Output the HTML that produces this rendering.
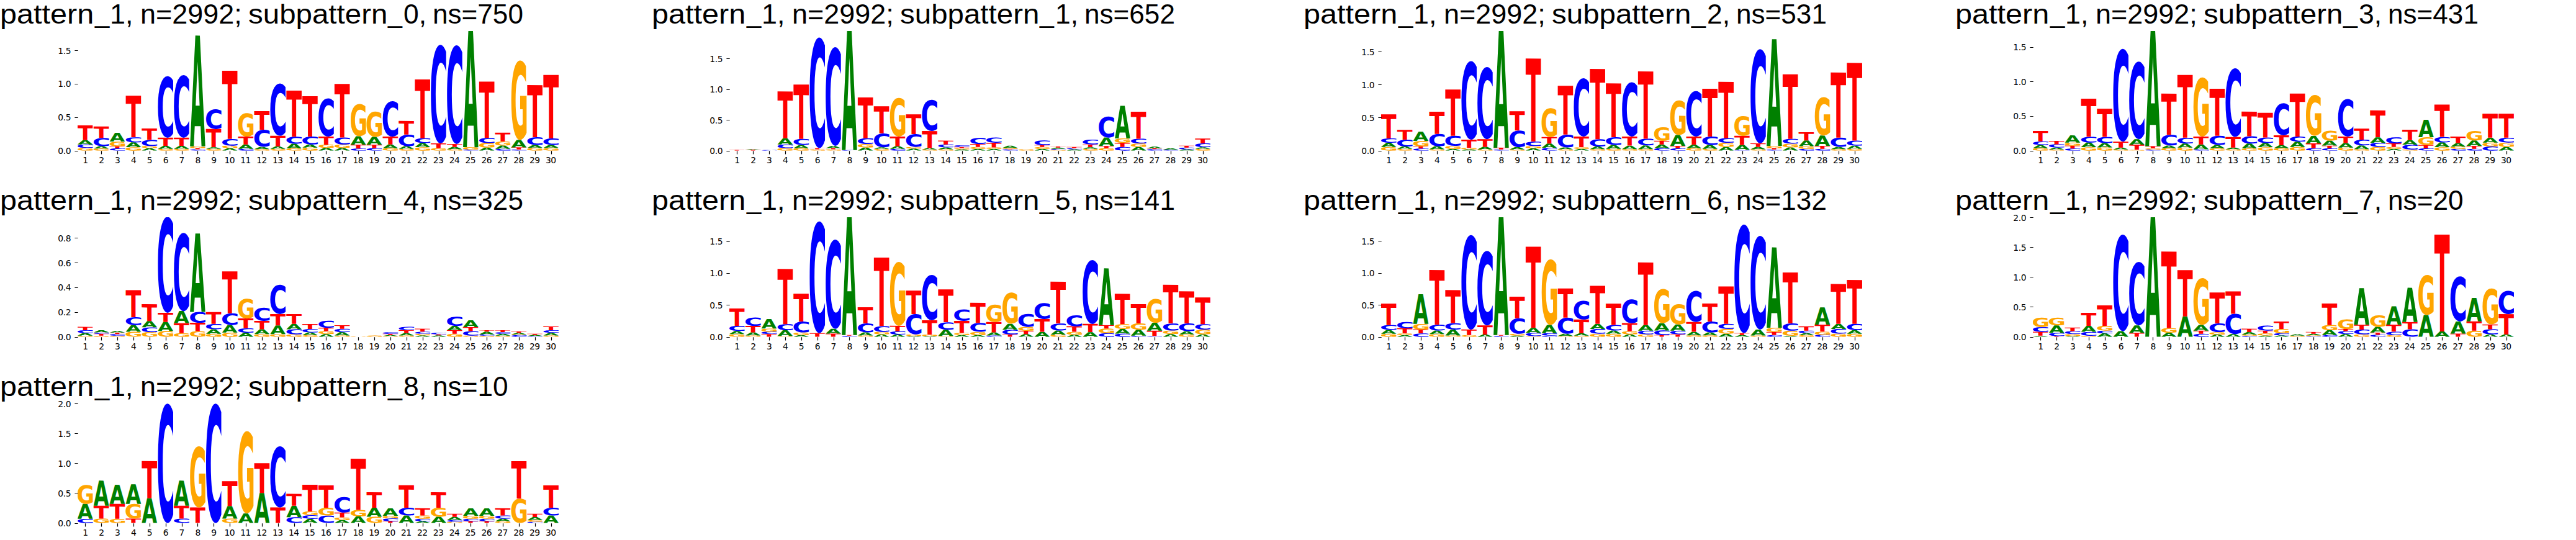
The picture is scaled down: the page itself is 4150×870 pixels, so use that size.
<!DOCTYPE html>
<html><head><meta charset="utf-8"><title>pattern_1 subpatterns</title>
<style>
html,body{margin:0;padding:0;background:#fff}
body{width:4150px;height:870px;position:relative;overflow:hidden}
.t{position:absolute;height:50px;white-space:nowrap;font-family:"Liberation Sans",sans-serif;font-size:45px;line-height:50px;color:#000}
.t span{position:absolute;top:-2.2px;white-space:pre;transform-origin:0 0}
svg{position:absolute;left:0;top:0}
.lg text{font-family:"DejaVu Sans",sans-serif;font-weight:bold;font-size:100px;text-rendering:geometricPrecision}
.tl text{font-family:"DejaVu Sans",sans-serif;font-size:13.89px;fill:#000;letter-spacing:-0.6px}
.tl.y text{letter-spacing:-0.3px}
</style></head><body>
<svg width="4150" height="870" viewBox="0 0 4150 870">
<defs><clipPath id="axclip"><rect x="125.0" y="50.0" width="775.0" height="193.4"/></clipPath></defs>
<g transform="translate(0 0)">
<g clip-path="url(#axclip)" class="lg">
<text transform="matrix(0.3526 .001 .001 0.0570 123.24 242.42)" fill="#ffa500">G</text>
<text transform="matrix(0.3964 .001 .001 0.0720 123.03 238.09)" fill="#0000ff">C</text>
<text transform="matrix(0.3217 .001 .001 0.0960 124.84 232.74)" fill="#008000">A</text>
<text transform="matrix(0.3659 .001 .001 0.3265 124.82 225.74)" fill="#ff0000">T</text>
<text transform="matrix(0.3526 .001 .001 0.0426 149.12 242.44)" fill="#ffa500">G</text>
<text transform="matrix(0.3217 .001 .001 0.0512 150.72 239.28)" fill="#008000">A</text>
<text transform="matrix(0.3964 .001 .001 0.1769 148.90 235.29)" fill="#0000ff">C</text>
<text transform="matrix(0.3659 .001 .001 0.2540 150.70 222.16)" fill="#ff0000">T</text>
<text transform="matrix(0.3964 .001 .001 0.0467 174.78 242.43)" fill="#0000ff">C</text>
<text transform="matrix(0.3659 .001 .001 0.0470 176.57 238.97)" fill="#ff0000">T</text>
<text transform="matrix(0.3526 .001 .001 0.0987 175.00 235.40)" fill="#ffa500">G</text>
<text transform="matrix(0.3217 .001 .001 0.1921 176.60 228.07)" fill="#008000">A</text>
<text transform="matrix(0.3526 .001 .001 0.0714 200.87 242.40)" fill="#ffa500">G</text>
<text transform="matrix(0.3217 .001 .001 0.1067 202.47 237.10)" fill="#008000">A</text>
<text transform="matrix(0.3964 .001 .001 0.1090 200.66 229.16)" fill="#0000ff">C</text>
<text transform="matrix(0.3659 .001 .001 0.9169 202.45 221.07)" fill="#ff0000">T</text>
<text transform="matrix(0.3217 .001 .001 0.0528 228.35 242.50)" fill="#008000">A</text>
<text transform="matrix(0.3526 .001 .001 0.0473 226.75 238.59)" fill="#ffa500">G</text>
<text transform="matrix(0.3964 .001 .001 0.1296 226.53 234.89)" fill="#0000ff">C</text>
<text transform="matrix(0.3659 .001 .001 0.2497 228.33 225.27)" fill="#ff0000">T</text>
<text transform="matrix(0.3526 .001 .001 0.0364 252.63 242.45)" fill="#ffa500">G</text>
<text transform="matrix(0.3217 .001 .001 0.0640 254.23 239.74)" fill="#008000">A</text>
<text transform="matrix(0.3659 .001 .001 0.1814 254.20 235.08)" fill="#ff0000">T</text>
<text transform="matrix(0.3964 .001 .001 1.3103 252.41 220.00)" fill="#0000ff">C</text>
<text transform="matrix(0.3526 .001 .001 0.0364 278.50 242.45)" fill="#ffa500">G</text>
<text transform="matrix(0.3217 .001 .001 0.0640 280.10 239.74)" fill="#008000">A</text>
<text transform="matrix(0.3659 .001 .001 0.1814 280.08 235.08)" fill="#ff0000">T</text>
<text transform="matrix(0.3964 .001 .001 1.3360 278.28 219.96)" fill="#0000ff">C</text>
<text transform="matrix(0.3964 .001 .001 0.0262 304.16 242.46)" fill="#0000ff">C</text>
<text transform="matrix(0.3659 .001 .001 0.0256 305.96 240.52)" fill="#ff0000">T</text>
<text transform="matrix(0.3526 .001 .001 0.0370 304.38 238.60)" fill="#ffa500">G</text>
<text transform="matrix(0.3217 .001 .001 2.4474 305.98 235.85)" fill="#008000">A</text>
<text transform="matrix(0.3526 .001 .001 0.0364 330.26 242.45)" fill="#ffa500">G</text>
<text transform="matrix(0.3217 .001 .001 0.0363 331.85 239.74)" fill="#008000">A</text>
<text transform="matrix(0.3659 .001 .001 0.4012 331.83 237.10)" fill="#ff0000">T</text>
<text transform="matrix(0.3964 .001 .001 0.4211 330.04 207.25)" fill="#0000ff">C</text>
<text transform="matrix(0.3217 .001 .001 0.0528 357.73 242.50)" fill="#008000">A</text>
<text transform="matrix(0.3526 .001 .001 0.0535 356.13 238.58)" fill="#ffa500">G</text>
<text transform="matrix(0.3964 .001 .001 0.1419 355.91 234.41)" fill="#0000ff">C</text>
<text transform="matrix(0.3659 .001 .001 1.5045 357.71 223.87)" fill="#ff0000">T</text>
<text transform="matrix(0.3964 .001 .001 0.0364 381.79 242.45)" fill="#0000ff">C</text>
<text transform="matrix(0.3217 .001 .001 0.0960 383.61 239.74)" fill="#008000">A</text>
<text transform="matrix(0.3659 .001 .001 0.1750 383.59 232.74)" fill="#ff0000">T</text>
<text transform="matrix(0.3526 .001 .001 0.4999 382.01 219.28)" fill="#ffa500">G</text>
<text transform="matrix(0.3526 .001 .001 0.0303 407.89 242.46)" fill="#ffa500">G</text>
<text transform="matrix(0.3217 .001 .001 0.0491 409.48 240.21)" fill="#008000">A</text>
<text transform="matrix(0.3964 .001 .001 0.3641 407.67 236.12)" fill="#0000ff">C</text>
<text transform="matrix(0.3659 .001 .001 0.4113 409.46 209.09)" fill="#ff0000">T</text>
<text transform="matrix(0.3526 .001 .001 0.0364 433.76 242.45)" fill="#ffa500">G</text>
<text transform="matrix(0.3217 .001 .001 0.0534 435.36 239.74)" fill="#008000">A</text>
<text transform="matrix(0.3659 .001 .001 0.2348 435.34 235.85)" fill="#ff0000">T</text>
<text transform="matrix(0.3964 .001 .001 1.1150 433.54 217.16)" fill="#0000ff">C</text>
<text transform="matrix(0.3526 .001 .001 0.0467 459.64 242.43)" fill="#ffa500">G</text>
<text transform="matrix(0.3217 .001 .001 0.1024 461.24 238.97)" fill="#008000">A</text>
<text transform="matrix(0.3964 .001 .001 0.1481 459.42 231.29)" fill="#0000ff">C</text>
<text transform="matrix(0.3659 .001 .001 1.0182 461.22 220.30)" fill="#ff0000">T</text>
<text transform="matrix(0.3526 .001 .001 0.0632 485.51 242.41)" fill="#ffa500">G</text>
<text transform="matrix(0.3217 .001 .001 0.0683 487.11 237.72)" fill="#008000">A</text>
<text transform="matrix(0.3964 .001 .001 0.1687 485.30 232.50)" fill="#0000ff">C</text>
<text transform="matrix(0.3659 .001 .001 0.8913 487.09 219.98)" fill="#ff0000">T</text>
<text transform="matrix(0.3217 .001 .001 0.0592 512.99 242.50)" fill="#008000">A</text>
<text transform="matrix(0.3526 .001 .001 0.0679 511.39 238.09)" fill="#ffa500">G</text>
<text transform="matrix(0.3659 .001 .001 0.1793 512.97 233.05)" fill="#ff0000">T</text>
<text transform="matrix(0.3964 .001 .001 0.8128 511.17 218.83)" fill="#0000ff">C</text>
<text transform="matrix(0.3217 .001 .001 0.0592 538.87 242.50)" fill="#008000">A</text>
<text transform="matrix(0.3526 .001 .001 0.0720 537.27 238.09)" fill="#ffa500">G</text>
<text transform="matrix(0.3964 .001 .001 0.1481 537.05 232.53)" fill="#0000ff">C</text>
<text transform="matrix(0.3659 .001 .001 1.1846 538.84 221.54)" fill="#ff0000">T</text>
<text transform="matrix(0.3964 .001 .001 0.0426 562.93 242.44)" fill="#0000ff">C</text>
<text transform="matrix(0.3659 .001 .001 0.0854 564.72 239.28)" fill="#ff0000">T</text>
<text transform="matrix(0.3217 .001 .001 0.1857 564.74 233.05)" fill="#008000">A</text>
<text transform="matrix(0.3526 .001 .001 0.6884 563.14 218.54)" fill="#ffa500">G</text>
<text transform="matrix(0.3964 .001 .001 0.0508 588.80 242.43)" fill="#0000ff">C</text>
<text transform="matrix(0.3659 .001 .001 0.0768 590.60 238.65)" fill="#ff0000">T</text>
<text transform="matrix(0.3217 .001 .001 0.1707 590.62 233.05)" fill="#008000">A</text>
<text transform="matrix(0.3526 .001 .001 0.5384 589.02 219.84)" fill="#ffa500">G</text>
<text transform="matrix(0.3526 .001 .001 0.0508 614.90 242.43)" fill="#ffa500">G</text>
<text transform="matrix(0.3217 .001 .001 0.0811 616.50 238.65)" fill="#008000">A</text>
<text transform="matrix(0.3659 .001 .001 0.1750 616.47 232.74)" fill="#ff0000">T</text>
<text transform="matrix(0.3964 .001 .001 0.7563 614.68 218.91)" fill="#0000ff">C</text>
<text transform="matrix(0.3526 .001 .001 0.0364 640.77 242.45)" fill="#ffa500">G</text>
<text transform="matrix(0.3217 .001 .001 0.0576 642.37 239.74)" fill="#008000">A</text>
<text transform="matrix(0.3964 .001 .001 0.2468 640.55 235.19)" fill="#0000ff">C</text>
<text transform="matrix(0.3659 .001 .001 0.3009 642.35 216.87)" fill="#ff0000">T</text>
<text transform="matrix(0.3526 .001 .001 0.0714 666.65 242.40)" fill="#ffa500">G</text>
<text transform="matrix(0.3217 .001 .001 0.0918 668.25 237.10)" fill="#008000">A</text>
<text transform="matrix(0.3964 .001 .001 0.1029 666.43 230.26)" fill="#0000ff">C</text>
<text transform="matrix(0.3659 .001 .001 1.3008 668.23 222.63)" fill="#ff0000">T</text>
<text transform="matrix(0.3526 .001 .001 0.0508 692.53 242.43)" fill="#ffa500">G</text>
<text transform="matrix(0.3659 .001 .001 0.1067 694.10 238.65)" fill="#ff0000">T</text>
<text transform="matrix(0.3964 .001 .001 2.0978 692.31 227.90)" fill="#0000ff">C</text>
<text transform="matrix(0.3526 .001 .001 0.0262 718.40 242.46)" fill="#ffa500">G</text>
<text transform="matrix(0.3217 .001 .001 0.0534 720.00 240.52)" fill="#008000">A</text>
<text transform="matrix(0.3659 .001 .001 0.0640 719.98 236.63)" fill="#ff0000">T</text>
<text transform="matrix(0.3964 .001 .001 2.1019 718.18 228.99)" fill="#0000ff">C</text>
<text transform="matrix(0.3964 .001 .001 0.0220 744.06 242.47)" fill="#0000ff">C</text>
<text transform="matrix(0.3526 .001 .001 0.0494 744.28 240.76)" fill="#ffa500">G</text>
<text transform="matrix(0.3217 .001 .001 2.6107 745.88 237.10)" fill="#008000">A</text>
<text transform="matrix(0.3217 .001 .001 0.0656 771.75 242.50)" fill="#008000">A</text>
<text transform="matrix(0.3526 .001 .001 0.0967 770.16 237.58)" fill="#ffa500">G</text>
<text transform="matrix(0.3964 .001 .001 0.1090 769.94 230.25)" fill="#0000ff">C</text>
<text transform="matrix(0.3659 .001 .001 1.2464 771.73 222.16)" fill="#ff0000">T</text>
<text transform="matrix(0.3964 .001 .001 0.0364 795.81 242.45)" fill="#0000ff">C</text>
<text transform="matrix(0.3217 .001 .001 0.0747 797.63 239.74)" fill="#008000">A</text>
<text transform="matrix(0.3526 .001 .001 0.0864 796.03 234.18)" fill="#ffa500">G</text>
<text transform="matrix(0.3659 .001 .001 0.1921 797.61 227.76)" fill="#ff0000">T</text>
<text transform="matrix(0.3964 .001 .001 0.0220 821.69 242.47)" fill="#0000ff">C</text>
<text transform="matrix(0.3659 .001 .001 0.0470 823.49 240.83)" fill="#ff0000">T</text>
<text transform="matrix(0.3217 .001 .001 0.1643 823.51 237.41)" fill="#008000">A</text>
<text transform="matrix(0.3526 .001 .001 1.6917 821.91 223.03)" fill="#ffa500">G</text>
<text transform="matrix(0.3526 .001 .001 0.0570 847.78 242.42)" fill="#ffa500">G</text>
<text transform="matrix(0.3217 .001 .001 0.0640 849.38 238.19)" fill="#008000">A</text>
<text transform="matrix(0.3964 .001 .001 0.1646 847.57 233.29)" fill="#0000ff">C</text>
<text transform="matrix(0.3659 .001 .001 1.1515 849.36 221.07)" fill="#ff0000">T</text>
<text transform="matrix(0.3526 .001 .001 0.0570 873.66 242.42)" fill="#ffa500">G</text>
<text transform="matrix(0.3217 .001 .001 0.0640 875.26 238.19)" fill="#008000">A</text>
<text transform="matrix(0.3964 .001 .001 0.1378 873.44 233.32)" fill="#0000ff">C</text>
<text transform="matrix(0.3659 .001 .001 1.4032 875.24 223.10)" fill="#ff0000">T</text>
</g>
<path d="M137.50 243.30v5.1M163.50 243.30v5.1M189.50 243.30v5.1M215.50 243.30v5.1M241.50 243.30v5.1M267.50 243.30v5.1M293.50 243.30v5.1M318.50 243.30v5.1M344.50 243.30v5.1M370.50 243.30v5.1M396.50 243.30v5.1M422.50 243.30v5.1M448.50 243.30v5.1M474.50 243.30v5.1M500.50 243.30v5.1M525.50 243.30v5.1M551.50 243.30v5.1M577.50 243.30v5.1M603.50 243.30v5.1M629.50 243.30v5.1M655.50 243.30v5.1M681.50 243.30v5.1M707.50 243.30v5.1M732.50 243.30v5.1M758.50 243.30v5.1M784.50 243.30v5.1M810.50 243.30v5.1M836.50 243.30v5.1M862.50 243.30v5.1M888.50 243.30v5.1M125.70 243.50h-5.3M125.70 189.50h-5.3M125.70 135.50h-5.3M125.70 81.50h-5.3" stroke="#000" stroke-width="1.2" fill="none"/>
<g class="tl" text-anchor="middle">
<text x="137.39" y="262.80">1</text>
<text x="163.27" y="262.80">2</text>
<text x="189.14" y="262.80">3</text>
<text x="215.02" y="262.80">4</text>
<text x="240.90" y="262.80">5</text>
<text x="266.77" y="262.80">6</text>
<text x="292.65" y="262.80">7</text>
<text x="318.53" y="262.80">8</text>
<text x="344.40" y="262.80">9</text>
<text x="369.68" y="262.80">10</text>
<text x="395.56" y="262.80">11</text>
<text x="421.43" y="262.80">12</text>
<text x="447.31" y="262.80">13</text>
<text x="473.19" y="262.80">14</text>
<text x="499.06" y="262.80">15</text>
<text x="524.94" y="262.80">16</text>
<text x="550.81" y="262.80">17</text>
<text x="576.69" y="262.80">18</text>
<text x="602.57" y="262.80">19</text>
<text x="628.44" y="262.80">20</text>
<text x="654.32" y="262.80">21</text>
<text x="680.20" y="262.80">22</text>
<text x="706.07" y="262.80">23</text>
<text x="731.95" y="262.80">24</text>
<text x="757.83" y="262.80">25</text>
<text x="783.70" y="262.80">26</text>
<text x="809.58" y="262.80">27</text>
<text x="835.46" y="262.80">28</text>
<text x="861.33" y="262.80">29</text>
<text x="887.21" y="262.80">30</text>
</g>
<g class="tl y" text-anchor="end">
<text x="114.40" y="248.00">0.0</text>
<text x="114.40" y="194.00">0.5</text>
<text x="114.40" y="140.00">1.0</text>
<text x="114.40" y="87.00">1.5</text>
</g>
</g>
<g transform="translate(1050 0)">
<g clip-path="url(#axclip)" class="lg">
<text transform="matrix(0.3659 .001 .001 0.0143 124.82 242.50)" fill="#ff0000">T</text>
<text transform="matrix(0.3659 .001 .001 0.0165 150.70 242.50)" fill="#ff0000">T</text>
<text transform="matrix(0.3217 .001 .001 0.0128 150.72 241.30)" fill="#008000">A</text>
<text transform="matrix(0.3964 .001 .001 0.0118 174.78 242.48)" fill="#0000ff">C</text>
<text transform="matrix(0.3526 .001 .001 0.0508 200.87 242.43)" fill="#ffa500">G</text>
<text transform="matrix(0.3964 .001 .001 0.0782 200.66 238.54)" fill="#0000ff">C</text>
<text transform="matrix(0.3217 .001 .001 0.1387 202.47 232.74)" fill="#008000">A</text>
<text transform="matrix(0.3659 .001 .001 1.0342 202.45 222.63)" fill="#ff0000">T</text>
<text transform="matrix(0.3526 .001 .001 0.0508 226.75 242.43)" fill="#ffa500">G</text>
<text transform="matrix(0.3217 .001 .001 0.0704 228.35 238.65)" fill="#008000">A</text>
<text transform="matrix(0.3964 .001 .001 0.1275 226.53 233.34)" fill="#0000ff">C</text>
<text transform="matrix(0.3659 .001 .001 1.2006 228.33 223.87)" fill="#ff0000">T</text>
<text transform="matrix(0.3526 .001 .001 0.0262 252.63 242.46)" fill="#ffa500">G</text>
<text transform="matrix(0.3659 .001 .001 0.0256 254.20 240.52)" fill="#ff0000">T</text>
<text transform="matrix(0.3964 .001 .001 2.3548 252.41 235.32)" fill="#0000ff">C</text>
<text transform="matrix(0.3526 .001 .001 0.0262 278.50 242.46)" fill="#ffa500">G</text>
<text transform="matrix(0.3659 .001 .001 0.0256 280.08 240.52)" fill="#ff0000">T</text>
<text transform="matrix(0.3217 .001 .001 0.0491 280.10 238.65)" fill="#008000">A</text>
<text transform="matrix(0.3964 .001 .001 2.1019 278.28 232.10)" fill="#0000ff">C</text>
<text transform="matrix(0.3964 .001 .001 0.0097 304.16 242.49)" fill="#0000ff">C</text>
<text transform="matrix(0.3217 .001 .001 2.6590 305.98 241.77)" fill="#008000">A</text>
<text transform="matrix(0.3217 .001 .001 0.0656 331.85 242.50)" fill="#008000">A</text>
<text transform="matrix(0.3526 .001 .001 0.0761 330.26 237.61)" fill="#ffa500">G</text>
<text transform="matrix(0.3964 .001 .001 0.1234 330.04 231.79)" fill="#0000ff">C</text>
<text transform="matrix(0.3659 .001 .001 0.9009 331.83 222.63)" fill="#ff0000">T</text>
<text transform="matrix(0.3526 .001 .001 0.0364 356.13 242.45)" fill="#ffa500">G</text>
<text transform="matrix(0.3217 .001 .001 0.0363 357.73 239.74)" fill="#008000">A</text>
<text transform="matrix(0.3964 .001 .001 0.2942 355.91 236.68)" fill="#0000ff">C</text>
<text transform="matrix(0.3659 .001 .001 0.5969 357.71 214.85)" fill="#ff0000">T</text>
<text transform="matrix(0.3964 .001 .001 0.0364 381.79 242.45)" fill="#0000ff">C</text>
<text transform="matrix(0.3217 .001 .001 0.0576 383.61 239.74)" fill="#008000">A</text>
<text transform="matrix(0.3659 .001 .001 0.2134 383.59 235.54)" fill="#ff0000">T</text>
<text transform="matrix(0.3526 .001 .001 0.8231 382.01 218.82)" fill="#ffa500">G</text>
<text transform="matrix(0.3217 .001 .001 0.0442 409.48 242.50)" fill="#008000">A</text>
<text transform="matrix(0.3526 .001 .001 0.0350 407.89 239.23)" fill="#ffa500">G</text>
<text transform="matrix(0.3964 .001 .001 0.2736 407.67 236.24)" fill="#0000ff">C</text>
<text transform="matrix(0.3659 .001 .001 0.4375 409.46 215.94)" fill="#ff0000">T</text>
<text transform="matrix(0.3526 .001 .001 0.0220 433.76 242.47)" fill="#ffa500">G</text>
<text transform="matrix(0.3217 .001 .001 0.0299 435.36 240.83)" fill="#008000">A</text>
<text transform="matrix(0.3659 .001 .001 0.3799 435.34 238.65)" fill="#ff0000">T</text>
<text transform="matrix(0.3964 .001 .001 0.6627 433.54 210.02)" fill="#0000ff">C</text>
<text transform="matrix(0.3526 .001 .001 0.0262 459.64 242.46)" fill="#ffa500">G</text>
<text transform="matrix(0.3217 .001 .001 0.0427 461.24 240.52)" fill="#008000">A</text>
<text transform="matrix(0.3964 .001 .001 0.0617 459.42 237.32)" fill="#0000ff">C</text>
<text transform="matrix(0.3659 .001 .001 0.0854 461.22 232.74)" fill="#ff0000">T</text>
<text transform="matrix(0.3217 .001 .001 0.0271 487.11 242.50)" fill="#008000">A</text>
<text transform="matrix(0.3526 .001 .001 0.0247 485.51 240.49)" fill="#ffa500">G</text>
<text transform="matrix(0.3659 .001 .001 0.0277 487.09 238.65)" fill="#ff0000">T</text>
<text transform="matrix(0.3964 .001 .001 0.0350 485.30 236.58)" fill="#0000ff">C</text>
<text transform="matrix(0.3217 .001 .001 0.0378 512.99 242.50)" fill="#008000">A</text>
<text transform="matrix(0.3526 .001 .001 0.0411 511.39 239.69)" fill="#ffa500">G</text>
<text transform="matrix(0.3659 .001 .001 0.0640 512.97 236.63)" fill="#ff0000">T</text>
<text transform="matrix(0.3964 .001 .001 0.1296 511.17 231.78)" fill="#0000ff">C</text>
<text transform="matrix(0.3217 .001 .001 0.0378 538.87 242.50)" fill="#008000">A</text>
<text transform="matrix(0.3526 .001 .001 0.0309 537.27 239.70)" fill="#ffa500">G</text>
<text transform="matrix(0.3659 .001 .001 0.1024 538.84 237.41)" fill="#ff0000">T</text>
<text transform="matrix(0.3964 .001 .001 0.1111 537.05 229.78)" fill="#0000ff">C</text>
<text transform="matrix(0.3964 .001 .001 0.0262 562.93 242.46)" fill="#0000ff">C</text>
<text transform="matrix(0.3659 .001 .001 0.0107 564.72 240.52)" fill="#ff0000">T</text>
<text transform="matrix(0.3526 .001 .001 0.0206 563.14 239.71)" fill="#ffa500">G</text>
<text transform="matrix(0.3217 .001 .001 0.0491 564.74 238.19)" fill="#008000">A</text>
<text transform="matrix(0.3526 .001 .001 0.0282 589.02 242.46)" fill="#ffa500">G</text>
<text transform="matrix(0.3217 .001 .001 0.0378 616.50 242.50)" fill="#008000">A</text>
<text transform="matrix(0.3526 .001 .001 0.0411 614.90 239.69)" fill="#ffa500">G</text>
<text transform="matrix(0.3659 .001 .001 0.0427 616.47 236.63)" fill="#ff0000">T</text>
<text transform="matrix(0.3964 .001 .001 0.0987 614.68 233.38)" fill="#0000ff">C</text>
<text transform="matrix(0.3526 .001 .001 0.0159 640.77 242.48)" fill="#ffa500">G</text>
<text transform="matrix(0.3964 .001 .001 0.0206 640.55 241.27)" fill="#0000ff">C</text>
<text transform="matrix(0.3217 .001 .001 0.0277 642.37 239.74)" fill="#008000">A</text>
<text transform="matrix(0.3659 .001 .001 0.0256 642.35 237.72)" fill="#ff0000">T</text>
<text transform="matrix(0.3217 .001 .001 0.0271 668.25 242.50)" fill="#008000">A</text>
<text transform="matrix(0.3964 .001 .001 0.0247 666.43 240.49)" fill="#0000ff">C</text>
<text transform="matrix(0.3659 .001 .001 0.0277 668.23 238.65)" fill="#ff0000">T</text>
<text transform="matrix(0.3526 .001 .001 0.0364 692.53 242.45)" fill="#ffa500">G</text>
<text transform="matrix(0.3217 .001 .001 0.0363 694.13 239.74)" fill="#008000">A</text>
<text transform="matrix(0.3659 .001 .001 0.0598 694.10 237.10)" fill="#ff0000">T</text>
<text transform="matrix(0.3964 .001 .001 0.1029 692.31 232.60)" fill="#0000ff">C</text>
<text transform="matrix(0.3526 .001 .001 0.0508 718.40 242.43)" fill="#ffa500">G</text>
<text transform="matrix(0.3659 .001 .001 0.0491 719.98 238.65)" fill="#ff0000">T</text>
<text transform="matrix(0.3217 .001 .001 0.1857 720.00 235.08)" fill="#008000">A</text>
<text transform="matrix(0.3964 .001 .001 0.4484 718.18 220.91)" fill="#0000ff">C</text>
<text transform="matrix(0.3964 .001 .001 0.0776 744.06 242.39)" fill="#0000ff">C</text>
<text transform="matrix(0.3659 .001 .001 0.0918 745.86 236.63)" fill="#ff0000">T</text>
<text transform="matrix(0.3526 .001 .001 0.0905 744.28 229.81)" fill="#ffa500">G</text>
<text transform="matrix(0.3217 .001 .001 0.7207 745.88 223.10)" fill="#008000">A</text>
<text transform="matrix(0.3217 .001 .001 0.0805 771.75 242.50)" fill="#008000">A</text>
<text transform="matrix(0.3526 .001 .001 0.0720 770.16 236.53)" fill="#ffa500">G</text>
<text transform="matrix(0.3964 .001 .001 0.1029 769.94 231.04)" fill="#0000ff">C</text>
<text transform="matrix(0.3659 .001 .001 0.5970 771.73 223.41)" fill="#ff0000">T</text>
<text transform="matrix(0.3964 .001 .001 0.0303 795.81 242.46)" fill="#0000ff">C</text>
<text transform="matrix(0.3659 .001 .001 0.0171 797.61 240.21)" fill="#ff0000">T</text>
<text transform="matrix(0.3217 .001 .001 0.0384 797.63 238.97)" fill="#008000">A</text>
<text transform="matrix(0.3964 .001 .001 0.0200 821.69 242.47)" fill="#0000ff">C</text>
<text transform="matrix(0.3217 .001 .001 0.0277 823.51 240.99)" fill="#008000">A</text>
<text transform="matrix(0.3217 .001 .001 0.0271 849.38 242.50)" fill="#008000">A</text>
<text transform="matrix(0.3964 .001 .001 0.0370 847.57 240.47)" fill="#0000ff">C</text>
<text transform="matrix(0.3659 .001 .001 0.0427 849.36 237.72)" fill="#ff0000">T</text>
<text transform="matrix(0.3526 .001 .001 0.0364 873.66 242.45)" fill="#ffa500">G</text>
<text transform="matrix(0.3217 .001 .001 0.0363 875.26 239.74)" fill="#008000">A</text>
<text transform="matrix(0.3964 .001 .001 0.0823 873.44 236.98)" fill="#0000ff">C</text>
<text transform="matrix(0.3659 .001 .001 0.1067 875.24 230.88)" fill="#ff0000">T</text>
</g>
<path d="M137.50 243.30v5.1M163.50 243.30v5.1M189.50 243.30v5.1M215.50 243.30v5.1M241.50 243.30v5.1M267.50 243.30v5.1M293.50 243.30v5.1M318.50 243.30v5.1M344.50 243.30v5.1M370.50 243.30v5.1M396.50 243.30v5.1M422.50 243.30v5.1M448.50 243.30v5.1M474.50 243.30v5.1M500.50 243.30v5.1M525.50 243.30v5.1M551.50 243.30v5.1M577.50 243.30v5.1M603.50 243.30v5.1M629.50 243.30v5.1M655.50 243.30v5.1M681.50 243.30v5.1M707.50 243.30v5.1M732.50 243.30v5.1M758.50 243.30v5.1M784.50 243.30v5.1M810.50 243.30v5.1M836.50 243.30v5.1M862.50 243.30v5.1M888.50 243.30v5.1M125.70 243.50h-5.3M125.70 193.50h-5.3M125.70 144.50h-5.3M125.70 94.50h-5.3" stroke="#000" stroke-width="1.2" fill="none"/>
<g class="tl" text-anchor="middle">
<text x="137.39" y="262.80">1</text>
<text x="163.27" y="262.80">2</text>
<text x="189.14" y="262.80">3</text>
<text x="215.02" y="262.80">4</text>
<text x="240.90" y="262.80">5</text>
<text x="266.77" y="262.80">6</text>
<text x="292.65" y="262.80">7</text>
<text x="318.53" y="262.80">8</text>
<text x="344.40" y="262.80">9</text>
<text x="369.68" y="262.80">10</text>
<text x="395.56" y="262.80">11</text>
<text x="421.43" y="262.80">12</text>
<text x="447.31" y="262.80">13</text>
<text x="473.19" y="262.80">14</text>
<text x="499.06" y="262.80">15</text>
<text x="524.94" y="262.80">16</text>
<text x="550.81" y="262.80">17</text>
<text x="576.69" y="262.80">18</text>
<text x="602.57" y="262.80">19</text>
<text x="628.44" y="262.80">20</text>
<text x="654.32" y="262.80">21</text>
<text x="680.20" y="262.80">22</text>
<text x="706.07" y="262.80">23</text>
<text x="731.95" y="262.80">24</text>
<text x="757.83" y="262.80">25</text>
<text x="783.70" y="262.80">26</text>
<text x="809.58" y="262.80">27</text>
<text x="835.46" y="262.80">28</text>
<text x="861.33" y="262.80">29</text>
<text x="887.21" y="262.80">30</text>
</g>
<g class="tl y" text-anchor="end">
<text x="114.40" y="248.00">0.0</text>
<text x="114.40" y="199.00">0.5</text>
<text x="114.40" y="149.00">1.0</text>
<text x="114.40" y="100.00">1.5</text>
</g>
</g>
<g transform="translate(2100 0)">
<g clip-path="url(#axclip)" class="lg">
<text transform="matrix(0.3526 .001 .001 0.0776 123.24 242.39)" fill="#ffa500">G</text>
<text transform="matrix(0.3217 .001 .001 0.0918 124.84 236.63)" fill="#008000">A</text>
<text transform="matrix(0.3964 .001 .001 0.0926 123.03 229.81)" fill="#0000ff">C</text>
<text transform="matrix(0.3659 .001 .001 0.5335 124.82 222.94)" fill="#ff0000">T</text>
<text transform="matrix(0.3526 .001 .001 0.0364 149.12 242.45)" fill="#ffa500">G</text>
<text transform="matrix(0.3217 .001 .001 0.0534 150.72 239.74)" fill="#008000">A</text>
<text transform="matrix(0.3964 .001 .001 0.1440 148.90 235.65)" fill="#0000ff">C</text>
<text transform="matrix(0.3659 .001 .001 0.2177 150.70 224.96)" fill="#ff0000">T</text>
<text transform="matrix(0.3964 .001 .001 0.0426 174.78 242.44)" fill="#0000ff">C</text>
<text transform="matrix(0.3659 .001 .001 0.0512 176.57 239.28)" fill="#ff0000">T</text>
<text transform="matrix(0.3526 .001 .001 0.1131 175.00 235.38)" fill="#ffa500">G</text>
<text transform="matrix(0.3217 .001 .001 0.2027 176.60 226.99)" fill="#008000">A</text>
<text transform="matrix(0.3526 .001 .001 0.0262 200.87 242.46)" fill="#ffa500">G</text>
<text transform="matrix(0.3217 .001 .001 0.0683 202.47 240.52)" fill="#008000">A</text>
<text transform="matrix(0.3964 .001 .001 0.2633 200.66 235.17)" fill="#0000ff">C</text>
<text transform="matrix(0.3659 .001 .001 0.4903 202.45 215.63)" fill="#ff0000">T</text>
<text transform="matrix(0.3217 .001 .001 0.0378 228.35 242.50)" fill="#008000">A</text>
<text transform="matrix(0.3526 .001 .001 0.0617 226.75 239.66)" fill="#ffa500">G</text>
<text transform="matrix(0.3964 .001 .001 0.2160 226.53 234.77)" fill="#0000ff">C</text>
<text transform="matrix(0.3659 .001 .001 1.0235 228.33 218.74)" fill="#ff0000">T</text>
<text transform="matrix(0.3217 .001 .001 0.0271 254.23 242.50)" fill="#008000">A</text>
<text transform="matrix(0.3526 .001 .001 0.0309 252.63 240.48)" fill="#ffa500">G</text>
<text transform="matrix(0.3659 .001 .001 0.1814 254.20 238.19)" fill="#ff0000">T</text>
<text transform="matrix(0.3964 .001 .001 1.6701 252.41 222.60)" fill="#0000ff">C</text>
<text transform="matrix(0.3526 .001 .001 0.0220 278.50 242.47)" fill="#ffa500">G</text>
<text transform="matrix(0.3217 .001 .001 0.0576 280.10 240.83)" fill="#008000">A</text>
<text transform="matrix(0.3659 .001 .001 0.1707 280.08 236.63)" fill="#ff0000">T</text>
<text transform="matrix(0.3964 .001 .001 1.5365 278.28 222.01)" fill="#0000ff">C</text>
<text transform="matrix(0.3964 .001 .001 0.0220 304.16 242.47)" fill="#0000ff">C</text>
<text transform="matrix(0.3659 .001 .001 0.0405 305.96 240.83)" fill="#ff0000">T</text>
<text transform="matrix(0.3217 .001 .001 2.6165 305.98 237.88)" fill="#008000">A</text>
<text transform="matrix(0.3526 .001 .001 0.0220 330.26 242.47)" fill="#ffa500">G</text>
<text transform="matrix(0.3217 .001 .001 0.0512 331.85 240.83)" fill="#008000">A</text>
<text transform="matrix(0.3964 .001 .001 0.3559 330.04 236.59)" fill="#0000ff">C</text>
<text transform="matrix(0.3659 .001 .001 0.4262 331.83 210.18)" fill="#ff0000">T</text>
<text transform="matrix(0.3217 .001 .001 0.0485 357.73 242.50)" fill="#008000">A</text>
<text transform="matrix(0.3526 .001 .001 0.0514 356.13 238.89)" fill="#ffa500">G</text>
<text transform="matrix(0.3964 .001 .001 0.0926 355.91 234.94)" fill="#0000ff">C</text>
<text transform="matrix(0.3659 .001 .001 1.8341 357.71 228.07)" fill="#ff0000">T</text>
<text transform="matrix(0.3964 .001 .001 0.0570 381.79 242.42)" fill="#0000ff">C</text>
<text transform="matrix(0.3217 .001 .001 0.0960 383.61 238.19)" fill="#008000">A</text>
<text transform="matrix(0.3659 .001 .001 0.1451 383.59 231.19)" fill="#ff0000">T</text>
<text transform="matrix(0.3526 .001 .001 0.6155 382.01 219.74)" fill="#ffa500">G</text>
<text transform="matrix(0.3526 .001 .001 0.0262 407.89 242.46)" fill="#ffa500">G</text>
<text transform="matrix(0.3217 .001 .001 0.0427 409.48 240.52)" fill="#008000">A</text>
<text transform="matrix(0.3964 .001 .001 0.2715 407.67 237.03)" fill="#0000ff">C</text>
<text transform="matrix(0.3659 .001 .001 1.0779 409.46 216.87)" fill="#ff0000">T</text>
<text transform="matrix(0.3217 .001 .001 0.0378 435.36 242.50)" fill="#008000">A</text>
<text transform="matrix(0.3526 .001 .001 0.0350 433.76 239.69)" fill="#ffa500">G</text>
<text transform="matrix(0.3659 .001 .001 0.2348 435.34 237.10)" fill="#ff0000">T</text>
<text transform="matrix(0.3964 .001 .001 1.2445 433.54 218.22)" fill="#0000ff">C</text>
<text transform="matrix(0.3526 .001 .001 0.0303 459.64 242.46)" fill="#ffa500">G</text>
<text transform="matrix(0.3217 .001 .001 0.0598 461.24 240.21)" fill="#008000">A</text>
<text transform="matrix(0.3964 .001 .001 0.1543 459.42 235.64)" fill="#0000ff">C</text>
<text transform="matrix(0.3659 .001 .001 1.5515 461.22 224.19)" fill="#ff0000">T</text>
<text transform="matrix(0.3526 .001 .001 0.0364 485.51 242.45)" fill="#ffa500">G</text>
<text transform="matrix(0.3217 .001 .001 0.0854 487.11 239.74)" fill="#008000">A</text>
<text transform="matrix(0.3964 .001 .001 0.1646 485.30 233.29)" fill="#0000ff">C</text>
<text transform="matrix(0.3659 .001 .001 1.1888 487.09 221.07)" fill="#ff0000">T</text>
<text transform="matrix(0.3526 .001 .001 0.0303 511.39 242.46)" fill="#ffa500">G</text>
<text transform="matrix(0.3217 .001 .001 0.0768 512.99 240.21)" fill="#008000">A</text>
<text transform="matrix(0.3659 .001 .001 0.2006 512.97 234.61)" fill="#ff0000">T</text>
<text transform="matrix(0.3964 .001 .001 1.1572 511.17 218.35)" fill="#0000ff">C</text>
<text transform="matrix(0.3526 .001 .001 0.0303 537.27 242.46)" fill="#ffa500">G</text>
<text transform="matrix(0.3217 .001 .001 0.0811 538.87 240.21)" fill="#008000">A</text>
<text transform="matrix(0.3964 .001 .001 0.1440 537.05 234.09)" fill="#0000ff">C</text>
<text transform="matrix(0.3659 .001 .001 1.4875 538.84 223.41)" fill="#ff0000">T</text>
<text transform="matrix(0.3964 .001 .001 0.0508 562.93 242.43)" fill="#0000ff">C</text>
<text transform="matrix(0.3217 .001 .001 0.0811 564.74 238.65)" fill="#008000">A</text>
<text transform="matrix(0.3659 .001 .001 0.0811 564.72 232.74)" fill="#ff0000">T</text>
<text transform="matrix(0.3526 .001 .001 0.2921 563.14 226.42)" fill="#ffa500">G</text>
<text transform="matrix(0.3964 .001 .001 0.0467 588.80 242.43)" fill="#0000ff">C</text>
<text transform="matrix(0.3659 .001 .001 0.0534 590.60 238.97)" fill="#ff0000">T</text>
<text transform="matrix(0.3217 .001 .001 0.2412 590.62 235.08)" fill="#008000">A</text>
<text transform="matrix(0.3526 .001 .001 0.7388 589.02 216.45)" fill="#ffa500">G</text>
<text transform="matrix(0.3526 .001 .001 0.0508 614.90 242.43)" fill="#ffa500">G</text>
<text transform="matrix(0.3217 .001 .001 0.0768 616.50 238.65)" fill="#008000">A</text>
<text transform="matrix(0.3659 .001 .001 0.1793 616.47 233.05)" fill="#ff0000">T</text>
<text transform="matrix(0.3964 .001 .001 0.9670 614.68 218.62)" fill="#0000ff">C</text>
<text transform="matrix(0.3526 .001 .001 0.0364 640.77 242.45)" fill="#ffa500">G</text>
<text transform="matrix(0.3217 .001 .001 0.0854 642.37 239.74)" fill="#008000">A</text>
<text transform="matrix(0.3964 .001 .001 0.1790 640.55 233.27)" fill="#0000ff">C</text>
<text transform="matrix(0.3659 .001 .001 1.0566 642.35 219.98)" fill="#ff0000">T</text>
<text transform="matrix(0.3217 .001 .001 0.0805 668.25 242.50)" fill="#008000">A</text>
<text transform="matrix(0.3526 .001 .001 0.0885 666.65 236.51)" fill="#ffa500">G</text>
<text transform="matrix(0.3964 .001 .001 0.0967 666.43 229.80)" fill="#0000ff">C</text>
<text transform="matrix(0.3659 .001 .001 1.2475 668.23 222.63)" fill="#ff0000">T</text>
<text transform="matrix(0.3964 .001 .001 0.0159 692.31 242.48)" fill="#0000ff">C</text>
<text transform="matrix(0.3217 .001 .001 0.1067 694.13 241.30)" fill="#008000">A</text>
<text transform="matrix(0.3659 .001 .001 0.2027 694.10 233.52)" fill="#ff0000">T</text>
<text transform="matrix(0.3526 .001 .001 0.4217 692.53 218.14)" fill="#ffa500">G</text>
<text transform="matrix(0.3526 .001 .001 0.0262 718.40 242.46)" fill="#ffa500">G</text>
<text transform="matrix(0.3217 .001 .001 0.0534 720.00 240.52)" fill="#008000">A</text>
<text transform="matrix(0.3659 .001 .001 0.0790 719.98 236.63)" fill="#ff0000">T</text>
<text transform="matrix(0.3964 .001 .001 2.0053 718.18 228.04)" fill="#0000ff">C</text>
<text transform="matrix(0.3964 .001 .001 0.0220 744.06 242.47)" fill="#0000ff">C</text>
<text transform="matrix(0.3659 .001 .001 0.0299 745.86 240.83)" fill="#ff0000">T</text>
<text transform="matrix(0.3526 .001 .001 0.0473 744.28 238.59)" fill="#ffa500">G</text>
<text transform="matrix(0.3217 .001 .001 2.3567 745.88 235.08)" fill="#008000">A</text>
<text transform="matrix(0.3217 .001 .001 0.0698 771.75 242.50)" fill="#008000">A</text>
<text transform="matrix(0.3526 .001 .001 0.0782 770.16 237.30)" fill="#ffa500">G</text>
<text transform="matrix(0.3964 .001 .001 0.1029 769.94 231.35)" fill="#0000ff">C</text>
<text transform="matrix(0.3659 .001 .001 1.4277 771.73 223.72)" fill="#ff0000">T</text>
<text transform="matrix(0.3964 .001 .001 0.0364 795.81 242.45)" fill="#0000ff">C</text>
<text transform="matrix(0.3526 .001 .001 0.0555 796.03 239.66)" fill="#ffa500">G</text>
<text transform="matrix(0.3217 .001 .001 0.1280 797.63 235.54)" fill="#008000">A</text>
<text transform="matrix(0.3659 .001 .001 0.1814 797.61 226.21)" fill="#ff0000">T</text>
<text transform="matrix(0.3964 .001 .001 0.0364 821.69 242.45)" fill="#0000ff">C</text>
<text transform="matrix(0.3659 .001 .001 0.0640 823.49 239.74)" fill="#ff0000">T</text>
<text transform="matrix(0.3217 .001 .001 0.2284 823.51 235.08)" fill="#008000">A</text>
<text transform="matrix(0.3526 .001 .001 0.8179 821.91 217.27)" fill="#ffa500">G</text>
<text transform="matrix(0.3526 .001 .001 0.0303 847.78 242.46)" fill="#ffa500">G</text>
<text transform="matrix(0.3217 .001 .001 0.0491 849.38 240.21)" fill="#008000">A</text>
<text transform="matrix(0.3964 .001 .001 0.1954 847.57 236.35)" fill="#0000ff">C</text>
<text transform="matrix(0.3659 .001 .001 1.4395 849.36 221.85)" fill="#ff0000">T</text>
<text transform="matrix(0.3526 .001 .001 0.0364 873.66 242.45)" fill="#ffa500">G</text>
<text transform="matrix(0.3217 .001 .001 0.0704 875.26 239.74)" fill="#008000">A</text>
<text transform="matrix(0.3964 .001 .001 0.1070 873.44 234.46)" fill="#0000ff">C</text>
<text transform="matrix(0.3659 .001 .001 1.7168 875.24 226.52)" fill="#ff0000">T</text>
</g>
<path d="M137.50 243.30v5.1M163.50 243.30v5.1M189.50 243.30v5.1M215.50 243.30v5.1M241.50 243.30v5.1M267.50 243.30v5.1M293.50 243.30v5.1M318.50 243.30v5.1M344.50 243.30v5.1M370.50 243.30v5.1M396.50 243.30v5.1M422.50 243.30v5.1M448.50 243.30v5.1M474.50 243.30v5.1M500.50 243.30v5.1M525.50 243.30v5.1M551.50 243.30v5.1M577.50 243.30v5.1M603.50 243.30v5.1M629.50 243.30v5.1M655.50 243.30v5.1M681.50 243.30v5.1M707.50 243.30v5.1M732.50 243.30v5.1M758.50 243.30v5.1M784.50 243.30v5.1M810.50 243.30v5.1M836.50 243.30v5.1M862.50 243.30v5.1M888.50 243.30v5.1M125.70 243.50h-5.3M125.70 189.50h-5.3M125.70 136.50h-5.3M125.70 83.50h-5.3" stroke="#000" stroke-width="1.2" fill="none"/>
<g class="tl" text-anchor="middle">
<text x="137.39" y="262.80">1</text>
<text x="163.27" y="262.80">2</text>
<text x="189.14" y="262.80">3</text>
<text x="215.02" y="262.80">4</text>
<text x="240.90" y="262.80">5</text>
<text x="266.77" y="262.80">6</text>
<text x="292.65" y="262.80">7</text>
<text x="318.53" y="262.80">8</text>
<text x="344.40" y="262.80">9</text>
<text x="369.68" y="262.80">10</text>
<text x="395.56" y="262.80">11</text>
<text x="421.43" y="262.80">12</text>
<text x="447.31" y="262.80">13</text>
<text x="473.19" y="262.80">14</text>
<text x="499.06" y="262.80">15</text>
<text x="524.94" y="262.80">16</text>
<text x="550.81" y="262.80">17</text>
<text x="576.69" y="262.80">18</text>
<text x="602.57" y="262.80">19</text>
<text x="628.44" y="262.80">20</text>
<text x="654.32" y="262.80">21</text>
<text x="680.20" y="262.80">22</text>
<text x="706.07" y="262.80">23</text>
<text x="731.95" y="262.80">24</text>
<text x="757.83" y="262.80">25</text>
<text x="783.70" y="262.80">26</text>
<text x="809.58" y="262.80">27</text>
<text x="835.46" y="262.80">28</text>
<text x="861.33" y="262.80">29</text>
<text x="887.21" y="262.80">30</text>
</g>
<g class="tl y" text-anchor="end">
<text x="114.40" y="248.00">0.0</text>
<text x="114.40" y="195.00">0.5</text>
<text x="114.40" y="142.00">1.0</text>
<text x="114.40" y="89.00">1.5</text>
</g>
</g>
<g transform="translate(3150 0)">
<g clip-path="url(#axclip)" class="lg">
<text transform="matrix(0.3526 .001 .001 0.0508 123.24 242.43)" fill="#ffa500">G</text>
<text transform="matrix(0.3217 .001 .001 0.0704 124.84 238.65)" fill="#008000">A</text>
<text transform="matrix(0.3964 .001 .001 0.0761 123.03 233.41)" fill="#0000ff">C</text>
<text transform="matrix(0.3659 .001 .001 0.2305 124.82 227.76)" fill="#ff0000">T</text>
<text transform="matrix(0.3526 .001 .001 0.0220 149.12 242.47)" fill="#ffa500">G</text>
<text transform="matrix(0.3217 .001 .001 0.0427 150.72 240.83)" fill="#008000">A</text>
<text transform="matrix(0.3964 .001 .001 0.0699 148.90 237.62)" fill="#0000ff">C</text>
<text transform="matrix(0.3659 .001 .001 0.0768 150.70 232.43)" fill="#ff0000">T</text>
<text transform="matrix(0.3964 .001 .001 0.0426 174.78 242.44)" fill="#0000ff">C</text>
<text transform="matrix(0.3659 .001 .001 0.0640 176.57 239.28)" fill="#ff0000">T</text>
<text transform="matrix(0.3526 .001 .001 0.0658 175.00 234.52)" fill="#ffa500">G</text>
<text transform="matrix(0.3217 .001 .001 0.1601 176.60 229.63)" fill="#008000">A</text>
<text transform="matrix(0.3526 .001 .001 0.0714 200.87 242.40)" fill="#ffa500">G</text>
<text transform="matrix(0.3217 .001 .001 0.1024 202.47 237.10)" fill="#008000">A</text>
<text transform="matrix(0.3964 .001 .001 0.1234 200.66 229.46)" fill="#0000ff">C</text>
<text transform="matrix(0.3659 .001 .001 0.8422 202.45 220.30)" fill="#ff0000">T</text>
<text transform="matrix(0.3526 .001 .001 0.0673 226.75 242.40)" fill="#ffa500">G</text>
<text transform="matrix(0.3217 .001 .001 0.0960 228.35 237.41)" fill="#008000">A</text>
<text transform="matrix(0.3964 .001 .001 0.1296 226.53 230.22)" fill="#0000ff">C</text>
<text transform="matrix(0.3659 .001 .001 0.6225 228.33 220.61)" fill="#ff0000">T</text>
<text transform="matrix(0.3526 .001 .001 0.0220 252.63 242.47)" fill="#ffa500">G</text>
<text transform="matrix(0.3217 .001 .001 0.0427 254.23 240.83)" fill="#008000">A</text>
<text transform="matrix(0.3659 .001 .001 0.1323 254.20 237.72)" fill="#ff0000">T</text>
<text transform="matrix(0.3964 .001 .001 1.9734 252.41 225.28)" fill="#0000ff">C</text>
<text transform="matrix(0.3526 .001 .001 0.0159 278.50 242.48)" fill="#ffa500">G</text>
<text transform="matrix(0.3659 .001 .001 0.1131 280.08 241.30)" fill="#ff0000">T</text>
<text transform="matrix(0.3217 .001 .001 0.1216 280.10 233.05)" fill="#008000">A</text>
<text transform="matrix(0.3964 .001 .001 1.6496 278.28 221.85)" fill="#0000ff">C</text>
<text transform="matrix(0.3964 .001 .001 0.0220 304.16 242.47)" fill="#0000ff">C</text>
<text transform="matrix(0.3526 .001 .001 0.0247 304.38 240.80)" fill="#ffa500">G</text>
<text transform="matrix(0.3659 .001 .001 0.0491 305.96 238.97)" fill="#ff0000">T</text>
<text transform="matrix(0.3217 .001 .001 2.5712 305.98 235.39)" fill="#008000">A</text>
<text transform="matrix(0.3526 .001 .001 0.0508 330.26 242.43)" fill="#ffa500">G</text>
<text transform="matrix(0.3217 .001 .001 0.0598 331.85 238.65)" fill="#008000">A</text>
<text transform="matrix(0.3964 .001 .001 0.2263 330.04 233.98)" fill="#0000ff">C</text>
<text transform="matrix(0.3659 .001 .001 0.9115 331.83 217.18)" fill="#ff0000">T</text>
<text transform="matrix(0.3526 .001 .001 0.0632 356.13 242.41)" fill="#ffa500">G</text>
<text transform="matrix(0.3217 .001 .001 0.0896 357.73 237.72)" fill="#008000">A</text>
<text transform="matrix(0.3964 .001 .001 0.1234 355.91 231.01)" fill="#0000ff">C</text>
<text transform="matrix(0.3659 .001 .001 1.3861 357.71 221.85)" fill="#ff0000">T</text>
<text transform="matrix(0.3964 .001 .001 0.0262 381.79 242.46)" fill="#0000ff">C</text>
<text transform="matrix(0.3217 .001 .001 0.1067 383.61 240.52)" fill="#008000">A</text>
<text transform="matrix(0.3659 .001 .001 0.1750 383.59 232.74)" fill="#ff0000">T</text>
<text transform="matrix(0.3526 .001 .001 1.2599 382.01 218.20)" fill="#ffa500">G</text>
<text transform="matrix(0.3526 .001 .001 0.0467 407.89 242.43)" fill="#ffa500">G</text>
<text transform="matrix(0.3217 .001 .001 0.0747 409.48 238.97)" fill="#008000">A</text>
<text transform="matrix(0.3964 .001 .001 0.1954 407.67 233.24)" fill="#0000ff">C</text>
<text transform="matrix(0.3659 .001 .001 1.0395 409.46 218.74)" fill="#ff0000">T</text>
<text transform="matrix(0.3526 .001 .001 0.0262 433.76 242.46)" fill="#ffa500">G</text>
<text transform="matrix(0.3217 .001 .001 0.0384 435.36 240.52)" fill="#008000">A</text>
<text transform="matrix(0.3659 .001 .001 0.2348 435.34 237.72)" fill="#ff0000">T</text>
<text transform="matrix(0.3964 .001 .001 1.4635 433.54 218.53)" fill="#0000ff">C</text>
<text transform="matrix(0.3526 .001 .001 0.0467 459.64 242.43)" fill="#ffa500">G</text>
<text transform="matrix(0.3217 .001 .001 0.1067 461.24 238.97)" fill="#008000">A</text>
<text transform="matrix(0.3964 .001 .001 0.1543 459.42 230.97)" fill="#0000ff">C</text>
<text transform="matrix(0.3659 .001 .001 0.5436 461.22 219.52)" fill="#ff0000">T</text>
<text transform="matrix(0.3526 .001 .001 0.0714 485.51 242.40)" fill="#ffa500">G</text>
<text transform="matrix(0.3217 .001 .001 0.0918 487.11 237.10)" fill="#008000">A</text>
<text transform="matrix(0.3964 .001 .001 0.1172 485.30 230.24)" fill="#0000ff">C</text>
<text transform="matrix(0.3659 .001 .001 0.5447 487.09 221.54)" fill="#ff0000">T</text>
<text transform="matrix(0.3526 .001 .001 0.0508 511.39 242.43)" fill="#ffa500">G</text>
<text transform="matrix(0.3217 .001 .001 0.0640 512.99 238.65)" fill="#008000">A</text>
<text transform="matrix(0.3659 .001 .001 0.2198 512.97 233.99)" fill="#ff0000">T</text>
<text transform="matrix(0.3964 .001 .001 0.6833 511.17 216.99)" fill="#0000ff">C</text>
<text transform="matrix(0.3526 .001 .001 0.0776 537.27 242.39)" fill="#ffa500">G</text>
<text transform="matrix(0.3217 .001 .001 0.1174 538.87 236.63)" fill="#008000">A</text>
<text transform="matrix(0.3964 .001 .001 0.1070 537.05 227.92)" fill="#0000ff">C</text>
<text transform="matrix(0.3659 .001 .001 0.9499 538.84 219.98)" fill="#ff0000">T</text>
<text transform="matrix(0.3964 .001 .001 0.0508 562.93 242.43)" fill="#0000ff">C</text>
<text transform="matrix(0.3659 .001 .001 0.1067 564.72 238.65)" fill="#ff0000">T</text>
<text transform="matrix(0.3217 .001 .001 0.1665 564.74 230.88)" fill="#008000">A</text>
<text transform="matrix(0.3526 .001 .001 0.8683 563.14 217.51)" fill="#ffa500">G</text>
<text transform="matrix(0.3964 .001 .001 0.0467 588.80 242.43)" fill="#0000ff">C</text>
<text transform="matrix(0.3659 .001 .001 0.0598 590.60 238.97)" fill="#ff0000">T</text>
<text transform="matrix(0.3217 .001 .001 0.1110 590.62 234.61)" fill="#008000">A</text>
<text transform="matrix(0.3526 .001 .001 0.2119 589.02 226.22)" fill="#ffa500">G</text>
<text transform="matrix(0.3526 .001 .001 0.0632 614.90 242.41)" fill="#ffa500">G</text>
<text transform="matrix(0.3217 .001 .001 0.1003 616.50 237.72)" fill="#008000">A</text>
<text transform="matrix(0.3659 .001 .001 0.1430 616.47 230.41)" fill="#ff0000">T</text>
<text transform="matrix(0.3964 .001 .001 0.7974 614.68 218.86)" fill="#0000ff">C</text>
<text transform="matrix(0.3526 .001 .001 0.0303 640.77 242.46)" fill="#ffa500">G</text>
<text transform="matrix(0.3217 .001 .001 0.0811 642.37 240.21)" fill="#008000">A</text>
<text transform="matrix(0.3964 .001 .001 0.1234 640.55 234.12)" fill="#0000ff">C</text>
<text transform="matrix(0.3659 .001 .001 0.2454 642.35 224.96)" fill="#ff0000">T</text>
<text transform="matrix(0.3526 .001 .001 0.0776 666.65 242.39)" fill="#ffa500">G</text>
<text transform="matrix(0.3964 .001 .001 0.0885 666.43 236.51)" fill="#0000ff">C</text>
<text transform="matrix(0.3217 .001 .001 0.1216 668.25 229.94)" fill="#008000">A</text>
<text transform="matrix(0.3659 .001 .001 0.5916 668.23 221.07)" fill="#ff0000">T</text>
<text transform="matrix(0.3217 .001 .001 0.0378 694.13 242.50)" fill="#008000">A</text>
<text transform="matrix(0.3526 .001 .001 0.0411 692.53 239.69)" fill="#ffa500">G</text>
<text transform="matrix(0.3659 .001 .001 0.0790 694.10 236.63)" fill="#ff0000">T</text>
<text transform="matrix(0.3964 .001 .001 0.1296 692.31 230.69)" fill="#0000ff">C</text>
<text transform="matrix(0.3526 .001 .001 0.0220 718.40 242.47)" fill="#ffa500">G</text>
<text transform="matrix(0.3964 .001 .001 0.1029 718.18 240.69)" fill="#0000ff">C</text>
<text transform="matrix(0.3217 .001 .001 0.1003 720.00 233.05)" fill="#008000">A</text>
<text transform="matrix(0.3659 .001 .001 0.2305 719.98 225.74)" fill="#ff0000">T</text>
<text transform="matrix(0.3964 .001 .001 0.0467 744.06 242.43)" fill="#0000ff">C</text>
<text transform="matrix(0.3659 .001 .001 0.0747 745.86 238.97)" fill="#ff0000">T</text>
<text transform="matrix(0.3526 .001 .001 0.1646 744.28 233.29)" fill="#ffa500">G</text>
<text transform="matrix(0.3217 .001 .001 0.3841 745.88 221.07)" fill="#008000">A</text>
<text transform="matrix(0.3526 .001 .001 0.0714 770.16 242.40)" fill="#ffa500">G</text>
<text transform="matrix(0.3217 .001 .001 0.1067 771.75 237.10)" fill="#008000">A</text>
<text transform="matrix(0.3964 .001 .001 0.1152 769.94 229.16)" fill="#0000ff">C</text>
<text transform="matrix(0.3659 .001 .001 0.7132 771.73 220.61)" fill="#ff0000">T</text>
<text transform="matrix(0.3964 .001 .001 0.0364 795.81 242.45)" fill="#0000ff">C</text>
<text transform="matrix(0.3526 .001 .001 0.0473 796.03 239.68)" fill="#ffa500">G</text>
<text transform="matrix(0.3217 .001 .001 0.0790 797.63 236.16)" fill="#008000">A</text>
<text transform="matrix(0.3659 .001 .001 0.1430 797.61 230.41)" fill="#ff0000">T</text>
<text transform="matrix(0.3964 .001 .001 0.0364 821.69 242.45)" fill="#0000ff">C</text>
<text transform="matrix(0.3659 .001 .001 0.0640 823.49 239.74)" fill="#ff0000">T</text>
<text transform="matrix(0.3217 .001 .001 0.1216 823.51 235.08)" fill="#008000">A</text>
<text transform="matrix(0.3526 .001 .001 0.2016 821.91 225.92)" fill="#ffa500">G</text>
<text transform="matrix(0.3964 .001 .001 0.0879 847.57 242.38)" fill="#0000ff">C</text>
<text transform="matrix(0.3526 .001 .001 0.0823 847.78 235.74)" fill="#ffa500">G</text>
<text transform="matrix(0.3217 .001 .001 0.1067 849.38 229.63)" fill="#008000">A</text>
<text transform="matrix(0.3659 .001 .001 0.5293 849.36 221.85)" fill="#ff0000">T</text>
<text transform="matrix(0.3217 .001 .001 0.0805 875.26 242.50)" fill="#008000">A</text>
<text transform="matrix(0.3526 .001 .001 0.0926 873.66 236.50)" fill="#ffa500">G</text>
<text transform="matrix(0.3964 .001 .001 0.1029 873.44 229.48)" fill="#0000ff">C</text>
<text transform="matrix(0.3659 .001 .001 0.5293 875.24 221.85)" fill="#ff0000">T</text>
</g>
<path d="M137.50 243.30v5.1M163.50 243.30v5.1M189.50 243.30v5.1M215.50 243.30v5.1M241.50 243.30v5.1M267.50 243.30v5.1M293.50 243.30v5.1M318.50 243.30v5.1M344.50 243.30v5.1M370.50 243.30v5.1M396.50 243.30v5.1M422.50 243.30v5.1M448.50 243.30v5.1M474.50 243.30v5.1M500.50 243.30v5.1M525.50 243.30v5.1M551.50 243.30v5.1M577.50 243.30v5.1M603.50 243.30v5.1M629.50 243.30v5.1M655.50 243.30v5.1M681.50 243.30v5.1M707.50 243.30v5.1M732.50 243.30v5.1M758.50 243.30v5.1M784.50 243.30v5.1M810.50 243.30v5.1M836.50 243.30v5.1M862.50 243.30v5.1M888.50 243.30v5.1M125.70 243.50h-5.3M125.70 187.50h-5.3M125.70 131.50h-5.3M125.70 76.50h-5.3" stroke="#000" stroke-width="1.2" fill="none"/>
<g class="tl" text-anchor="middle">
<text x="137.39" y="262.80">1</text>
<text x="163.27" y="262.80">2</text>
<text x="189.14" y="262.80">3</text>
<text x="215.02" y="262.80">4</text>
<text x="240.90" y="262.80">5</text>
<text x="266.77" y="262.80">6</text>
<text x="292.65" y="262.80">7</text>
<text x="318.53" y="262.80">8</text>
<text x="344.40" y="262.80">9</text>
<text x="369.68" y="262.80">10</text>
<text x="395.56" y="262.80">11</text>
<text x="421.43" y="262.80">12</text>
<text x="447.31" y="262.80">13</text>
<text x="473.19" y="262.80">14</text>
<text x="499.06" y="262.80">15</text>
<text x="524.94" y="262.80">16</text>
<text x="550.81" y="262.80">17</text>
<text x="576.69" y="262.80">18</text>
<text x="602.57" y="262.80">19</text>
<text x="628.44" y="262.80">20</text>
<text x="654.32" y="262.80">21</text>
<text x="680.20" y="262.80">22</text>
<text x="706.07" y="262.80">23</text>
<text x="731.95" y="262.80">24</text>
<text x="757.83" y="262.80">25</text>
<text x="783.70" y="262.80">26</text>
<text x="809.58" y="262.80">27</text>
<text x="835.46" y="262.80">28</text>
<text x="861.33" y="262.80">29</text>
<text x="887.21" y="262.80">30</text>
</g>
<g class="tl y" text-anchor="end">
<text x="114.40" y="248.00">0.0</text>
<text x="114.40" y="192.00">0.5</text>
<text x="114.40" y="137.00">1.0</text>
<text x="114.40" y="81.00">1.5</text>
</g>
</g>
<g transform="translate(0 300)">
<g clip-path="url(#axclip)" class="lg">
<text transform="matrix(0.3526 .001 .001 0.0220 123.24 242.47)" fill="#ffa500">G</text>
<text transform="matrix(0.3217 .001 .001 0.0576 124.84 240.83)" fill="#008000">A</text>
<text transform="matrix(0.3964 .001 .001 0.0617 123.03 236.54)" fill="#0000ff">C</text>
<text transform="matrix(0.3659 .001 .001 0.0747 124.82 231.96)" fill="#ff0000">T</text>
<text transform="matrix(0.3526 .001 .001 0.0220 149.12 242.47)" fill="#ffa500">G</text>
<text transform="matrix(0.3659 .001 .001 0.0427 150.70 240.83)" fill="#ff0000">T</text>
<text transform="matrix(0.3964 .001 .001 0.0288 148.90 237.68)" fill="#0000ff">C</text>
<text transform="matrix(0.3217 .001 .001 0.0491 150.72 235.54)" fill="#008000">A</text>
<text transform="matrix(0.3526 .001 .001 0.0220 175.00 242.47)" fill="#ffa500">G</text>
<text transform="matrix(0.3964 .001 .001 0.0350 174.78 240.78)" fill="#0000ff">C</text>
<text transform="matrix(0.3659 .001 .001 0.0320 176.57 238.19)" fill="#ff0000">T</text>
<text transform="matrix(0.3217 .001 .001 0.0363 176.60 235.85)" fill="#008000">A</text>
<text transform="matrix(0.3526 .001 .001 0.1043 200.87 242.35)" fill="#ffa500">G</text>
<text transform="matrix(0.3217 .001 .001 0.1494 202.47 234.61)" fill="#008000">A</text>
<text transform="matrix(0.3964 .001 .001 0.1687 200.66 223.48)" fill="#0000ff">C</text>
<text transform="matrix(0.3659 .001 .001 0.5969 202.45 210.96)" fill="#ff0000">T</text>
<text transform="matrix(0.3526 .001 .001 0.0982 226.75 242.36)" fill="#ffa500">G</text>
<text transform="matrix(0.3964 .001 .001 0.1029 226.53 234.93)" fill="#0000ff">C</text>
<text transform="matrix(0.3217 .001 .001 0.1387 228.35 227.30)" fill="#008000">A</text>
<text transform="matrix(0.3659 .001 .001 0.3735 228.33 217.18)" fill="#ff0000">T</text>
<text transform="matrix(0.3526 .001 .001 0.1228 252.63 242.33)" fill="#ffa500">G</text>
<text transform="matrix(0.3217 .001 .001 0.1985 254.23 233.21)" fill="#008000">A</text>
<text transform="matrix(0.3659 .001 .001 0.2027 254.20 218.74)" fill="#ff0000">T</text>
<text transform="matrix(0.3964 .001 .001 2.0435 252.41 201.07)" fill="#0000ff">C</text>
<text transform="matrix(0.3526 .001 .001 0.0776 278.50 242.39)" fill="#ffa500">G</text>
<text transform="matrix(0.3659 .001 .001 0.2198 280.08 236.63)" fill="#ff0000">T</text>
<text transform="matrix(0.3217 .001 .001 0.2668 280.10 220.61)" fill="#008000">A</text>
<text transform="matrix(0.3964 .001 .001 1.6638 278.28 198.80)" fill="#0000ff">C</text>
<text transform="matrix(0.3526 .001 .001 0.1187 304.38 242.33)" fill="#ffa500">G</text>
<text transform="matrix(0.3659 .001 .001 0.1857 305.96 233.52)" fill="#ff0000">T</text>
<text transform="matrix(0.3964 .001 .001 0.2324 304.16 219.66)" fill="#0000ff">C</text>
<text transform="matrix(0.3217 .001 .001 1.7326 305.98 202.40)" fill="#008000">A</text>
<text transform="matrix(0.3526 .001 .001 0.0632 330.26 242.41)" fill="#ffa500">G</text>
<text transform="matrix(0.3217 .001 .001 0.1003 331.85 237.72)" fill="#008000">A</text>
<text transform="matrix(0.3964 .001 .001 0.1131 330.04 230.25)" fill="#0000ff">C</text>
<text transform="matrix(0.3659 .001 .001 0.2604 331.83 221.85)" fill="#ff0000">T</text>
<text transform="matrix(0.3526 .001 .001 0.0879 356.13 242.38)" fill="#ffa500">G</text>
<text transform="matrix(0.3217 .001 .001 0.1665 357.73 235.85)" fill="#008000">A</text>
<text transform="matrix(0.3964 .001 .001 0.2510 355.91 223.36)" fill="#0000ff">C</text>
<text transform="matrix(0.3659 .001 .001 0.9274 357.71 204.74)" fill="#ff0000">T</text>
<text transform="matrix(0.3217 .001 .001 0.0912 383.61 242.50)" fill="#008000">A</text>
<text transform="matrix(0.3964 .001 .001 0.0926 381.79 235.72)" fill="#0000ff">C</text>
<text transform="matrix(0.3659 .001 .001 0.2177 383.59 228.85)" fill="#ff0000">T</text>
<text transform="matrix(0.3526 .001 .001 0.4217 382.01 212.39)" fill="#ffa500">G</text>
<text transform="matrix(0.3526 .001 .001 0.0570 407.89 242.42)" fill="#ffa500">G</text>
<text transform="matrix(0.3217 .001 .001 0.1067 409.48 238.19)" fill="#008000">A</text>
<text transform="matrix(0.3659 .001 .001 0.1857 409.46 230.41)" fill="#ff0000">T</text>
<text transform="matrix(0.3964 .001 .001 0.2798 407.67 216.48)" fill="#0000ff">C</text>
<text transform="matrix(0.3526 .001 .001 0.0570 433.76 242.42)" fill="#ffa500">G</text>
<text transform="matrix(0.3217 .001 .001 0.1921 435.36 238.19)" fill="#008000">A</text>
<text transform="matrix(0.3659 .001 .001 0.2497 435.34 224.19)" fill="#ff0000">T</text>
<text transform="matrix(0.3964 .001 .001 0.6225 433.54 205.10)" fill="#0000ff">C</text>
<text transform="matrix(0.3526 .001 .001 0.0508 459.64 242.43)" fill="#ffa500">G</text>
<text transform="matrix(0.3964 .001 .001 0.1090 459.42 238.50)" fill="#0000ff">C</text>
<text transform="matrix(0.3217 .001 .001 0.1174 461.24 230.41)" fill="#008000">A</text>
<text transform="matrix(0.3659 .001 .001 0.2177 461.22 221.85)" fill="#ff0000">T</text>
<text transform="matrix(0.3526 .001 .001 0.0364 485.51 242.45)" fill="#ffa500">G</text>
<text transform="matrix(0.3217 .001 .001 0.0576 487.11 239.74)" fill="#008000">A</text>
<text transform="matrix(0.3964 .001 .001 0.0741 485.30 235.44)" fill="#0000ff">C</text>
<text transform="matrix(0.3659 .001 .001 0.1110 487.09 229.94)" fill="#ff0000">T</text>
<text transform="matrix(0.3217 .001 .001 0.0592 512.99 242.50)" fill="#008000">A</text>
<text transform="matrix(0.3526 .001 .001 0.0617 511.39 238.10)" fill="#ffa500">G</text>
<text transform="matrix(0.3659 .001 .001 0.0747 512.97 233.52)" fill="#ff0000">T</text>
<text transform="matrix(0.3964 .001 .001 0.1502 511.17 227.86)" fill="#0000ff">C</text>
<text transform="matrix(0.3526 .001 .001 0.0262 537.27 242.46)" fill="#ffa500">G</text>
<text transform="matrix(0.3217 .001 .001 0.0747 538.87 240.52)" fill="#008000">A</text>
<text transform="matrix(0.3964 .001 .001 0.0720 537.05 234.97)" fill="#0000ff">C</text>
<text transform="matrix(0.3659 .001 .001 0.0790 538.84 229.63)" fill="#ff0000">T</text>
<text transform="matrix(0.3526 .001 .001 0.0076 563.14 242.49)" fill="#ffa500">G</text>
<text transform="matrix(0.3526 .001 .001 0.0262 589.02 242.46)" fill="#ffa500">G</text>
<text transform="matrix(0.3526 .001 .001 0.0159 614.90 242.48)" fill="#ffa500">G</text>
<text transform="matrix(0.3217 .001 .001 0.0213 616.50 241.30)" fill="#008000">A</text>
<text transform="matrix(0.3659 .001 .001 0.0277 616.47 239.74)" fill="#ff0000">T</text>
<text transform="matrix(0.3964 .001 .001 0.0350 614.68 237.67)" fill="#0000ff">C</text>
<text transform="matrix(0.3526 .001 .001 0.0262 640.77 242.46)" fill="#ffa500">G</text>
<text transform="matrix(0.3217 .001 .001 0.0534 642.37 240.52)" fill="#008000">A</text>
<text transform="matrix(0.3659 .001 .001 0.0640 642.35 236.63)" fill="#ff0000">T</text>
<text transform="matrix(0.3964 .001 .001 0.0720 640.55 231.86)" fill="#0000ff">C</text>
<text transform="matrix(0.3217 .001 .001 0.0314 668.25 242.50)" fill="#008000">A</text>
<text transform="matrix(0.3526 .001 .001 0.0329 666.65 240.16)" fill="#ffa500">G</text>
<text transform="matrix(0.3964 .001 .001 0.0453 666.43 237.66)" fill="#0000ff">C</text>
<text transform="matrix(0.3659 .001 .001 0.0640 668.23 234.30)" fill="#ff0000">T</text>
<text transform="matrix(0.3217 .001 .001 0.0314 694.13 242.50)" fill="#008000">A</text>
<text transform="matrix(0.3659 .001 .001 0.0213 694.10 240.21)" fill="#ff0000">T</text>
<text transform="matrix(0.3964 .001 .001 0.0329 692.31 238.61)" fill="#0000ff">C</text>
<text transform="matrix(0.3526 .001 .001 0.0632 718.40 242.41)" fill="#ffa500">G</text>
<text transform="matrix(0.3659 .001 .001 0.0790 719.98 237.72)" fill="#ff0000">T</text>
<text transform="matrix(0.3217 .001 .001 0.0960 720.00 231.96)" fill="#008000">A</text>
<text transform="matrix(0.3964 .001 .001 0.1954 718.18 224.69)" fill="#0000ff">C</text>
<text transform="matrix(0.3526 .001 .001 0.0262 744.28 242.46)" fill="#ffa500">G</text>
<text transform="matrix(0.3964 .001 .001 0.0926 744.06 240.39)" fill="#0000ff">C</text>
<text transform="matrix(0.3659 .001 .001 0.0896 745.86 233.52)" fill="#ff0000">T</text>
<text transform="matrix(0.3217 .001 .001 0.1515 745.88 226.99)" fill="#008000">A</text>
<text transform="matrix(0.3526 .001 .001 0.0220 770.16 242.47)" fill="#ffa500">G</text>
<text transform="matrix(0.3964 .001 .001 0.0288 769.94 240.79)" fill="#0000ff">C</text>
<text transform="matrix(0.3217 .001 .001 0.0598 771.75 238.65)" fill="#008000">A</text>
<text transform="matrix(0.3659 .001 .001 0.0320 771.73 234.30)" fill="#ff0000">T</text>
<text transform="matrix(0.3526 .001 .001 0.0220 796.03 242.47)" fill="#ffa500">G</text>
<text transform="matrix(0.3217 .001 .001 0.0427 797.63 240.83)" fill="#008000">A</text>
<text transform="matrix(0.3964 .001 .001 0.0350 795.81 237.67)" fill="#0000ff">C</text>
<text transform="matrix(0.3659 .001 .001 0.0427 797.61 235.08)" fill="#ff0000">T</text>
<text transform="matrix(0.3964 .001 .001 0.0364 821.69 242.45)" fill="#0000ff">C</text>
<text transform="matrix(0.3526 .001 .001 0.0144 821.91 239.72)" fill="#ffa500">G</text>
<text transform="matrix(0.3217 .001 .001 0.0341 823.51 238.65)" fill="#008000">A</text>
<text transform="matrix(0.3659 .001 .001 0.0299 823.49 236.16)" fill="#ff0000">T</text>
<text transform="matrix(0.3964 .001 .001 0.0159 847.57 242.48)" fill="#0000ff">C</text>
<text transform="matrix(0.3217 .001 .001 0.0256 849.38 241.30)" fill="#008000">A</text>
<text transform="matrix(0.3659 .001 .001 0.0235 849.36 239.43)" fill="#ff0000">T</text>
<text transform="matrix(0.3526 .001 .001 0.0262 873.66 242.46)" fill="#ffa500">G</text>
<text transform="matrix(0.3217 .001 .001 0.0598 875.26 240.52)" fill="#008000">A</text>
<text transform="matrix(0.3964 .001 .001 0.0555 873.44 236.09)" fill="#0000ff">C</text>
<text transform="matrix(0.3659 .001 .001 0.0854 875.24 231.96)" fill="#ff0000">T</text>
</g>
<path d="M137.50 243.30v5.1M163.50 243.30v5.1M189.50 243.30v5.1M215.50 243.30v5.1M241.50 243.30v5.1M267.50 243.30v5.1M293.50 243.30v5.1M318.50 243.30v5.1M344.50 243.30v5.1M370.50 243.30v5.1M396.50 243.30v5.1M422.50 243.30v5.1M448.50 243.30v5.1M474.50 243.30v5.1M500.50 243.30v5.1M525.50 243.30v5.1M551.50 243.30v5.1M577.50 243.30v5.1M603.50 243.30v5.1M629.50 243.30v5.1M655.50 243.30v5.1M681.50 243.30v5.1M707.50 243.30v5.1M732.50 243.30v5.1M758.50 243.30v5.1M784.50 243.30v5.1M810.50 243.30v5.1M836.50 243.30v5.1M862.50 243.30v5.1M888.50 243.30v5.1M125.70 243.50h-5.3M125.70 203.50h-5.3M125.70 163.50h-5.3M125.70 123.50h-5.3M125.70 83.50h-5.3" stroke="#000" stroke-width="1.2" fill="none"/>
<g class="tl" text-anchor="middle">
<text x="137.39" y="262.80">1</text>
<text x="163.27" y="262.80">2</text>
<text x="189.14" y="262.80">3</text>
<text x="215.02" y="262.80">4</text>
<text x="240.90" y="262.80">5</text>
<text x="266.77" y="262.80">6</text>
<text x="292.65" y="262.80">7</text>
<text x="318.53" y="262.80">8</text>
<text x="344.40" y="262.80">9</text>
<text x="369.68" y="262.80">10</text>
<text x="395.56" y="262.80">11</text>
<text x="421.43" y="262.80">12</text>
<text x="447.31" y="262.80">13</text>
<text x="473.19" y="262.80">14</text>
<text x="499.06" y="262.80">15</text>
<text x="524.94" y="262.80">16</text>
<text x="550.81" y="262.80">17</text>
<text x="576.69" y="262.80">18</text>
<text x="602.57" y="262.80">19</text>
<text x="628.44" y="262.80">20</text>
<text x="654.32" y="262.80">21</text>
<text x="680.20" y="262.80">22</text>
<text x="706.07" y="262.80">23</text>
<text x="731.95" y="262.80">24</text>
<text x="757.83" y="262.80">25</text>
<text x="783.70" y="262.80">26</text>
<text x="809.58" y="262.80">27</text>
<text x="835.46" y="262.80">28</text>
<text x="861.33" y="262.80">29</text>
<text x="887.21" y="262.80">30</text>
</g>
<g class="tl y" text-anchor="end">
<text x="114.40" y="248.00">0.0</text>
<text x="114.40" y="208.00">0.2</text>
<text x="114.40" y="168.00">0.4</text>
<text x="114.40" y="129.00">0.6</text>
<text x="114.40" y="89.00">0.8</text>
</g>
</g>
<g transform="translate(1050 300)">
<g clip-path="url(#axclip)" class="lg">
<text transform="matrix(0.3526 .001 .001 0.0570 123.24 242.42)" fill="#ffa500">G</text>
<text transform="matrix(0.3217 .001 .001 0.0683 124.84 238.19)" fill="#008000">A</text>
<text transform="matrix(0.3964 .001 .001 0.1090 123.03 233.05)" fill="#0000ff">C</text>
<text transform="matrix(0.3659 .001 .001 0.3841 124.82 224.96)" fill="#ff0000">T</text>
<text transform="matrix(0.3526 .001 .001 0.0262 149.12 242.46)" fill="#ffa500">G</text>
<text transform="matrix(0.3217 .001 .001 0.0683 150.72 240.52)" fill="#008000">A</text>
<text transform="matrix(0.3659 .001 .001 0.1451 150.70 235.54)" fill="#ff0000">T</text>
<text transform="matrix(0.3964 .001 .001 0.1810 148.90 224.71)" fill="#0000ff">C</text>
<text transform="matrix(0.3659 .001 .001 0.0592 176.57 242.50)" fill="#ff0000">T</text>
<text transform="matrix(0.3964 .001 .001 0.0514 174.78 238.11)" fill="#0000ff">C</text>
<text transform="matrix(0.3526 .001 .001 0.0658 175.00 234.20)" fill="#ffa500">G</text>
<text transform="matrix(0.3217 .001 .001 0.2091 176.60 229.32)" fill="#008000">A</text>
<text transform="matrix(0.3526 .001 .001 0.0159 200.87 242.48)" fill="#ffa500">G</text>
<text transform="matrix(0.3217 .001 .001 0.1280 202.47 241.30)" fill="#008000">A</text>
<text transform="matrix(0.3964 .001 .001 0.1296 200.66 231.78)" fill="#0000ff">C</text>
<text transform="matrix(0.3659 .001 .001 1.2198 202.45 222.16)" fill="#ff0000">T</text>
<text transform="matrix(0.3217 .001 .001 0.0378 228.35 242.50)" fill="#008000">A</text>
<text transform="matrix(0.3526 .001 .001 0.0555 226.75 239.66)" fill="#ffa500">G</text>
<text transform="matrix(0.3964 .001 .001 0.2324 226.53 235.21)" fill="#0000ff">C</text>
<text transform="matrix(0.3659 .001 .001 0.6129 228.33 217.96)" fill="#ff0000">T</text>
<text transform="matrix(0.3659 .001 .001 0.0805 254.20 242.50)" fill="#ff0000">T</text>
<text transform="matrix(0.3964 .001 .001 2.3795 252.41 233.26)" fill="#0000ff">C</text>
<text transform="matrix(0.3659 .001 .001 0.0698 280.08 242.50)" fill="#ff0000">T</text>
<text transform="matrix(0.3217 .001 .001 0.1067 280.10 237.41)" fill="#008000">A</text>
<text transform="matrix(0.3964 .001 .001 1.9014 278.28 226.94)" fill="#0000ff">C</text>
<text transform="matrix(0.3964 .001 .001 0.0220 304.16 242.47)" fill="#0000ff">C</text>
<text transform="matrix(0.3659 .001 .001 0.0149 305.96 240.83)" fill="#ff0000">T</text>
<text transform="matrix(0.3217 .001 .001 2.6351 305.98 239.74)" fill="#008000">A</text>
<text transform="matrix(0.3526 .001 .001 0.0262 330.26 242.46)" fill="#ffa500">G</text>
<text transform="matrix(0.3217 .001 .001 0.0683 331.85 240.52)" fill="#008000">A</text>
<text transform="matrix(0.3964 .001 .001 0.1913 330.04 235.27)" fill="#0000ff">C</text>
<text transform="matrix(0.3659 .001 .001 0.3585 331.83 221.07)" fill="#ff0000">T</text>
<text transform="matrix(0.3217 .001 .001 0.0528 357.73 242.50)" fill="#008000">A</text>
<text transform="matrix(0.3526 .001 .001 0.0535 356.13 238.58)" fill="#ffa500">G</text>
<text transform="matrix(0.3964 .001 .001 0.1234 355.91 234.43)" fill="#0000ff">C</text>
<text transform="matrix(0.3659 .001 .001 1.5131 357.71 225.27)" fill="#ff0000">T</text>
<text transform="matrix(0.3217 .001 .001 0.0485 383.61 242.50)" fill="#008000">A</text>
<text transform="matrix(0.3964 .001 .001 0.0679 381.79 238.87)" fill="#0000ff">C</text>
<text transform="matrix(0.3659 .001 .001 0.1216 383.59 233.83)" fill="#ff0000">T</text>
<text transform="matrix(0.3526 .001 .001 1.3617 382.01 223.03)" fill="#ffa500">G</text>
<text transform="matrix(0.3217 .001 .001 0.0165 409.48 242.50)" fill="#008000">A</text>
<text transform="matrix(0.3526 .001 .001 0.0350 407.89 241.25)" fill="#ffa500">G</text>
<text transform="matrix(0.3964 .001 .001 0.4320 407.67 238.04)" fill="#0000ff">C</text>
<text transform="matrix(0.3659 .001 .001 0.5179 409.46 205.98)" fill="#ff0000">T</text>
<text transform="matrix(0.3217 .001 .001 0.0165 435.36 242.50)" fill="#008000">A</text>
<text transform="matrix(0.3526 .001 .001 0.0309 433.76 241.26)" fill="#ffa500">G</text>
<text transform="matrix(0.3659 .001 .001 0.3159 435.34 238.97)" fill="#ff0000">T</text>
<text transform="matrix(0.3964 .001 .001 0.9649 433.54 214.57)" fill="#0000ff">C</text>
<text transform="matrix(0.3526 .001 .001 0.0159 459.64 242.48)" fill="#ffa500">G</text>
<text transform="matrix(0.3217 .001 .001 0.1387 461.24 241.30)" fill="#008000">A</text>
<text transform="matrix(0.3964 .001 .001 0.1604 459.42 230.96)" fill="#0000ff">C</text>
<text transform="matrix(0.3659 .001 .001 0.7238 461.22 219.05)" fill="#ff0000">T</text>
<text transform="matrix(0.3217 .001 .001 0.0378 487.11 242.50)" fill="#008000">A</text>
<text transform="matrix(0.3526 .001 .001 0.0473 485.51 239.68)" fill="#ffa500">G</text>
<text transform="matrix(0.3659 .001 .001 0.2646 487.09 236.16)" fill="#ff0000">T</text>
<text transform="matrix(0.3964 .001 .001 0.2427 485.30 216.53)" fill="#0000ff">C</text>
<text transform="matrix(0.3217 .001 .001 0.0378 512.99 242.50)" fill="#008000">A</text>
<text transform="matrix(0.3526 .001 .001 0.0679 511.39 239.65)" fill="#ffa500">G</text>
<text transform="matrix(0.3964 .001 .001 0.1892 511.17 234.34)" fill="#0000ff">C</text>
<text transform="matrix(0.3659 .001 .001 0.4439 512.97 220.30)" fill="#ff0000">T</text>
<text transform="matrix(0.3964 .001 .001 0.0262 537.05 242.46)" fill="#0000ff">C</text>
<text transform="matrix(0.3217 .001 .001 0.0683 538.87 240.52)" fill="#008000">A</text>
<text transform="matrix(0.3659 .001 .001 0.2305 538.84 235.54)" fill="#ff0000">T</text>
<text transform="matrix(0.3526 .001 .001 0.3703 537.27 218.22)" fill="#ffa500">G</text>
<text transform="matrix(0.3659 .001 .001 0.0528 564.72 242.50)" fill="#ff0000">T</text>
<text transform="matrix(0.3964 .001 .001 0.0987 562.93 238.51)" fill="#0000ff">C</text>
<text transform="matrix(0.3217 .001 .001 0.1323 564.74 231.19)" fill="#008000">A</text>
<text transform="matrix(0.3526 .001 .001 0.6638 563.14 220.60)" fill="#ffa500">G</text>
<text transform="matrix(0.3217 .001 .001 0.0592 590.62 242.50)" fill="#008000">A</text>
<text transform="matrix(0.3659 .001 .001 0.0747 590.60 238.19)" fill="#ff0000">T</text>
<text transform="matrix(0.3526 .001 .001 0.0823 589.02 232.63)" fill="#ffa500">G</text>
<text transform="matrix(0.3964 .001 .001 0.2777 588.80 226.13)" fill="#0000ff">C</text>
<text transform="matrix(0.3217 .001 .001 0.1082 616.50 242.50)" fill="#008000">A</text>
<text transform="matrix(0.3659 .001 .001 0.2817 616.47 234.61)" fill="#ff0000">T</text>
<text transform="matrix(0.3964 .001 .001 0.3394 614.68 213.59)" fill="#0000ff">C</text>
<text transform="matrix(0.3526 .001 .001 0.0426 640.77 242.44)" fill="#ffa500">G</text>
<text transform="matrix(0.3217 .001 .001 0.0939 642.37 239.28)" fill="#008000">A</text>
<text transform="matrix(0.3964 .001 .001 0.1502 640.55 232.22)" fill="#0000ff">C</text>
<text transform="matrix(0.3659 .001 .001 0.9222 642.35 221.07)" fill="#ff0000">T</text>
<text transform="matrix(0.3217 .001 .001 0.0442 668.25 242.50)" fill="#008000">A</text>
<text transform="matrix(0.3526 .001 .001 0.0617 666.65 239.19)" fill="#ffa500">G</text>
<text transform="matrix(0.3659 .001 .001 0.1216 668.23 234.61)" fill="#ff0000">T</text>
<text transform="matrix(0.3964 .001 .001 0.2366 666.43 225.41)" fill="#0000ff">C</text>
<text transform="matrix(0.3217 .001 .001 0.1018 694.13 242.50)" fill="#008000">A</text>
<text transform="matrix(0.3659 .001 .001 0.1814 694.10 235.08)" fill="#ff0000">T</text>
<text transform="matrix(0.3964 .001 .001 1.3617 692.31 219.92)" fill="#0000ff">C</text>
<text transform="matrix(0.3964 .001 .001 0.0776 718.18 242.39)" fill="#0000ff">C</text>
<text transform="matrix(0.3526 .001 .001 0.0967 718.40 236.49)" fill="#ffa500">G</text>
<text transform="matrix(0.3659 .001 .001 0.0747 719.98 229.32)" fill="#ff0000">T</text>
<text transform="matrix(0.3217 .001 .001 1.2539 720.00 223.87)" fill="#008000">A</text>
<text transform="matrix(0.3964 .001 .001 0.0673 744.06 242.40)" fill="#0000ff">C</text>
<text transform="matrix(0.3217 .001 .001 0.1024 745.88 237.41)" fill="#008000">A</text>
<text transform="matrix(0.3526 .001 .001 0.1029 744.28 229.80)" fill="#ffa500">G</text>
<text transform="matrix(0.3659 .001 .001 0.6705 745.86 222.16)" fill="#ff0000">T</text>
<text transform="matrix(0.3964 .001 .001 0.0220 769.94 242.47)" fill="#0000ff">C</text>
<text transform="matrix(0.3217 .001 .001 0.1323 771.75 240.83)" fill="#008000">A</text>
<text transform="matrix(0.3526 .001 .001 0.1337 770.16 231.00)" fill="#ffa500">G</text>
<text transform="matrix(0.3659 .001 .001 0.4268 771.73 221.07)" fill="#ff0000">T</text>
<text transform="matrix(0.3964 .001 .001 0.0159 795.81 242.48)" fill="#0000ff">C</text>
<text transform="matrix(0.3659 .001 .001 0.1174 797.61 241.30)" fill="#ff0000">T</text>
<text transform="matrix(0.3217 .001 .001 0.1750 797.63 232.74)" fill="#008000">A</text>
<text transform="matrix(0.3526 .001 .001 0.5101 796.03 219.26)" fill="#ffa500">G</text>
<text transform="matrix(0.3217 .001 .001 0.0592 823.51 242.50)" fill="#008000">A</text>
<text transform="matrix(0.3526 .001 .001 0.0761 821.91 238.08)" fill="#ffa500">G</text>
<text transform="matrix(0.3964 .001 .001 0.1502 821.69 232.22)" fill="#0000ff">C</text>
<text transform="matrix(0.3659 .001 .001 0.8529 823.49 221.07)" fill="#ff0000">T</text>
<text transform="matrix(0.3526 .001 .001 0.0508 847.78 242.43)" fill="#ffa500">G</text>
<text transform="matrix(0.3217 .001 .001 0.0704 849.38 238.65)" fill="#008000">A</text>
<text transform="matrix(0.3964 .001 .001 0.1646 847.57 233.29)" fill="#0000ff">C</text>
<text transform="matrix(0.3659 .001 .001 0.7089 849.36 221.07)" fill="#ff0000">T</text>
<text transform="matrix(0.3217 .001 .001 0.0528 875.26 242.50)" fill="#008000">A</text>
<text transform="matrix(0.3526 .001 .001 0.1029 873.66 238.51)" fill="#ffa500">G</text>
<text transform="matrix(0.3964 .001 .001 0.1152 873.44 230.71)" fill="#0000ff">C</text>
<text transform="matrix(0.3659 .001 .001 0.5906 875.24 222.16)" fill="#ff0000">T</text>
</g>
<path d="M137.50 243.30v5.1M163.50 243.30v5.1M189.50 243.30v5.1M215.50 243.30v5.1M241.50 243.30v5.1M267.50 243.30v5.1M293.50 243.30v5.1M318.50 243.30v5.1M344.50 243.30v5.1M370.50 243.30v5.1M396.50 243.30v5.1M422.50 243.30v5.1M448.50 243.30v5.1M474.50 243.30v5.1M500.50 243.30v5.1M525.50 243.30v5.1M551.50 243.30v5.1M577.50 243.30v5.1M603.50 243.30v5.1M629.50 243.30v5.1M655.50 243.30v5.1M681.50 243.30v5.1M707.50 243.30v5.1M732.50 243.30v5.1M758.50 243.30v5.1M784.50 243.30v5.1M810.50 243.30v5.1M836.50 243.30v5.1M862.50 243.30v5.1M888.50 243.30v5.1M125.70 243.50h-5.3M125.70 191.50h-5.3M125.70 140.50h-5.3M125.70 89.50h-5.3" stroke="#000" stroke-width="1.2" fill="none"/>
<g class="tl" text-anchor="middle">
<text x="137.39" y="262.80">1</text>
<text x="163.27" y="262.80">2</text>
<text x="189.14" y="262.80">3</text>
<text x="215.02" y="262.80">4</text>
<text x="240.90" y="262.80">5</text>
<text x="266.77" y="262.80">6</text>
<text x="292.65" y="262.80">7</text>
<text x="318.53" y="262.80">8</text>
<text x="344.40" y="262.80">9</text>
<text x="369.68" y="262.80">10</text>
<text x="395.56" y="262.80">11</text>
<text x="421.43" y="262.80">12</text>
<text x="447.31" y="262.80">13</text>
<text x="473.19" y="262.80">14</text>
<text x="499.06" y="262.80">15</text>
<text x="524.94" y="262.80">16</text>
<text x="550.81" y="262.80">17</text>
<text x="576.69" y="262.80">18</text>
<text x="602.57" y="262.80">19</text>
<text x="628.44" y="262.80">20</text>
<text x="654.32" y="262.80">21</text>
<text x="680.20" y="262.80">22</text>
<text x="706.07" y="262.80">23</text>
<text x="731.95" y="262.80">24</text>
<text x="757.83" y="262.80">25</text>
<text x="783.70" y="262.80">26</text>
<text x="809.58" y="262.80">27</text>
<text x="835.46" y="262.80">28</text>
<text x="861.33" y="262.80">29</text>
<text x="887.21" y="262.80">30</text>
</g>
<g class="tl y" text-anchor="end">
<text x="114.40" y="248.00">0.0</text>
<text x="114.40" y="197.00">0.5</text>
<text x="114.40" y="145.00">1.0</text>
<text x="114.40" y="94.00">1.5</text>
</g>
</g>
<g transform="translate(2100 300)">
<g clip-path="url(#axclip)" class="lg">
<text transform="matrix(0.3526 .001 .001 0.0632 123.24 242.41)" fill="#ffa500">G</text>
<text transform="matrix(0.3217 .001 .001 0.0854 124.84 237.72)" fill="#008000">A</text>
<text transform="matrix(0.3964 .001 .001 0.1029 123.03 231.35)" fill="#0000ff">C</text>
<text transform="matrix(0.3659 .001 .001 0.4738 124.82 223.72)" fill="#ff0000">T</text>
<text transform="matrix(0.3217 .001 .001 0.0378 150.72 242.50)" fill="#008000">A</text>
<text transform="matrix(0.3526 .001 .001 0.0350 149.12 239.69)" fill="#ffa500">G</text>
<text transform="matrix(0.3659 .001 .001 0.1131 150.70 237.10)" fill="#ff0000">T</text>
<text transform="matrix(0.3964 .001 .001 0.1337 148.90 228.66)" fill="#0000ff">C</text>
<text transform="matrix(0.3964 .001 .001 0.0714 174.78 242.40)" fill="#0000ff">C</text>
<text transform="matrix(0.3659 .001 .001 0.0854 176.57 237.10)" fill="#ff0000">T</text>
<text transform="matrix(0.3526 .001 .001 0.1193 175.00 230.71)" fill="#ffa500">G</text>
<text transform="matrix(0.3217 .001 .001 0.6556 176.60 221.85)" fill="#008000">A</text>
<text transform="matrix(0.3526 .001 .001 0.0570 200.87 242.42)" fill="#ffa500">G</text>
<text transform="matrix(0.3217 .001 .001 0.0790 202.47 238.19)" fill="#008000">A</text>
<text transform="matrix(0.3964 .001 .001 0.1234 200.66 232.26)" fill="#0000ff">C</text>
<text transform="matrix(0.3659 .001 .001 1.2059 202.45 223.10)" fill="#ff0000">T</text>
<text transform="matrix(0.3526 .001 .001 0.0262 226.75 242.46)" fill="#ffa500">G</text>
<text transform="matrix(0.3217 .001 .001 0.1323 228.35 240.52)" fill="#008000">A</text>
<text transform="matrix(0.3964 .001 .001 0.1358 226.53 230.68)" fill="#0000ff">C</text>
<text transform="matrix(0.3659 .001 .001 0.7292 228.33 220.61)" fill="#ff0000">T</text>
<text transform="matrix(0.3526 .001 .001 0.0364 252.63 242.45)" fill="#ffa500">G</text>
<text transform="matrix(0.3659 .001 .001 0.1216 254.20 239.74)" fill="#ff0000">T</text>
<text transform="matrix(0.3964 .001 .001 2.0104 252.41 228.03)" fill="#0000ff">C</text>
<text transform="matrix(0.3217 .001 .001 0.0485 280.10 242.50)" fill="#008000">A</text>
<text transform="matrix(0.3659 .001 .001 0.2027 280.08 238.97)" fill="#ff0000">T</text>
<text transform="matrix(0.3964 .001 .001 1.5879 278.28 221.94)" fill="#0000ff">C</text>
<text transform="matrix(0.3964 .001 .001 0.0220 304.16 242.47)" fill="#0000ff">C</text>
<text transform="matrix(0.3659 .001 .001 0.0149 305.96 240.83)" fill="#ff0000">T</text>
<text transform="matrix(0.3217 .001 .001 2.6423 305.98 239.74)" fill="#008000">A</text>
<text transform="matrix(0.3217 .001 .001 0.0271 331.85 242.50)" fill="#008000">A</text>
<text transform="matrix(0.3526 .001 .001 0.0370 330.26 240.47)" fill="#ffa500">G</text>
<text transform="matrix(0.3964 .001 .001 0.3291 330.04 237.25)" fill="#0000ff">C</text>
<text transform="matrix(0.3659 .001 .001 0.4785 331.83 212.83)" fill="#ff0000">T</text>
<text transform="matrix(0.3526 .001 .001 0.0159 356.13 242.48)" fill="#ffa500">G</text>
<text transform="matrix(0.3964 .001 .001 0.0679 355.91 241.20)" fill="#0000ff">C</text>
<text transform="matrix(0.3217 .001 .001 0.1110 357.73 236.16)" fill="#008000">A</text>
<text transform="matrix(0.3659 .001 .001 1.7914 357.71 228.07)" fill="#ff0000">T</text>
<text transform="matrix(0.3964 .001 .001 0.0262 381.79 242.46)" fill="#0000ff">C</text>
<text transform="matrix(0.3964 .001 .001 0.0494 381.79 240.45)" fill="#0000ff">C</text>
<text transform="matrix(0.3217 .001 .001 0.1835 383.61 236.79)" fill="#008000">A</text>
<text transform="matrix(0.3526 .001 .001 1.3977 382.01 221.43)" fill="#ffa500">G</text>
<text transform="matrix(0.3526 .001 .001 0.0159 407.89 242.48)" fill="#ffa500">G</text>
<text transform="matrix(0.3217 .001 .001 0.0491 409.48 241.30)" fill="#008000">A</text>
<text transform="matrix(0.3964 .001 .001 0.3435 407.67 237.23)" fill="#0000ff">C</text>
<text transform="matrix(0.3659 .001 .001 0.6449 409.46 211.74)" fill="#ff0000">T</text>
<text transform="matrix(0.3526 .001 .001 0.0220 433.76 242.47)" fill="#ffa500">G</text>
<text transform="matrix(0.3217 .001 .001 0.0512 435.36 240.83)" fill="#008000">A</text>
<text transform="matrix(0.3659 .001 .001 0.3052 435.34 237.10)" fill="#ff0000">T</text>
<text transform="matrix(0.3964 .001 .001 0.4011 433.54 214.28)" fill="#0000ff">C</text>
<text transform="matrix(0.3526 .001 .001 0.0632 459.64 242.41)" fill="#ffa500">G</text>
<text transform="matrix(0.3964 .001 .001 0.1029 459.42 237.58)" fill="#0000ff">C</text>
<text transform="matrix(0.3217 .001 .001 0.1110 461.24 229.94)" fill="#008000">A</text>
<text transform="matrix(0.3659 .001 .001 0.8422 461.22 221.85)" fill="#ff0000">T</text>
<text transform="matrix(0.3526 .001 .001 0.0632 485.51 242.41)" fill="#ffa500">G</text>
<text transform="matrix(0.3217 .001 .001 0.0726 487.11 237.72)" fill="#008000">A</text>
<text transform="matrix(0.3964 .001 .001 0.1193 485.30 232.26)" fill="#0000ff">C</text>
<text transform="matrix(0.3659 .001 .001 0.4695 487.09 223.41)" fill="#ff0000">T</text>
<text transform="matrix(0.3217 .001 .001 0.0528 512.99 242.50)" fill="#008000">A</text>
<text transform="matrix(0.3526 .001 .001 0.0679 511.39 238.56)" fill="#ffa500">G</text>
<text transform="matrix(0.3659 .001 .001 0.1771 512.97 233.52)" fill="#ff0000">T</text>
<text transform="matrix(0.3964 .001 .001 0.5081 511.17 219.89)" fill="#0000ff">C</text>
<text transform="matrix(0.3526 .001 .001 0.0508 537.27 242.43)" fill="#ffa500">G</text>
<text transform="matrix(0.3964 .001 .001 0.0782 537.05 238.54)" fill="#0000ff">C</text>
<text transform="matrix(0.3217 .001 .001 0.1238 538.87 232.74)" fill="#008000">A</text>
<text transform="matrix(0.3659 .001 .001 1.3851 538.84 223.72)" fill="#ff0000">T</text>
<text transform="matrix(0.3659 .001 .001 0.0378 564.72 242.50)" fill="#ff0000">T</text>
<text transform="matrix(0.3964 .001 .001 0.0967 562.93 239.61)" fill="#0000ff">C</text>
<text transform="matrix(0.3217 .001 .001 0.1622 564.74 232.43)" fill="#008000">A</text>
<text transform="matrix(0.3526 .001 .001 0.7285 563.14 219.58)" fill="#ffa500">G</text>
<text transform="matrix(0.3659 .001 .001 0.0528 590.60 242.50)" fill="#ff0000">T</text>
<text transform="matrix(0.3964 .001 .001 0.0782 588.80 238.54)" fill="#0000ff">C</text>
<text transform="matrix(0.3217 .001 .001 0.1387 590.62 232.74)" fill="#008000">A</text>
<text transform="matrix(0.3526 .001 .001 0.4315 589.02 222.02)" fill="#ffa500">G</text>
<text transform="matrix(0.3526 .001 .001 0.0303 614.90 242.46)" fill="#ffa500">G</text>
<text transform="matrix(0.3217 .001 .001 0.0768 616.50 240.21)" fill="#008000">A</text>
<text transform="matrix(0.3659 .001 .001 0.2177 616.47 234.61)" fill="#ff0000">T</text>
<text transform="matrix(0.3964 .001 .001 0.6627 614.68 217.80)" fill="#0000ff">C</text>
<text transform="matrix(0.3526 .001 .001 0.0303 640.77 242.46)" fill="#ffa500">G</text>
<text transform="matrix(0.3217 .001 .001 0.0640 642.37 240.21)" fill="#008000">A</text>
<text transform="matrix(0.3964 .001 .001 0.2324 640.55 235.21)" fill="#0000ff">C</text>
<text transform="matrix(0.3659 .001 .001 0.3991 642.35 217.96)" fill="#ff0000">T</text>
<text transform="matrix(0.3217 .001 .001 0.0656 668.25 242.50)" fill="#008000">A</text>
<text transform="matrix(0.3526 .001 .001 0.1029 666.65 237.58)" fill="#ffa500">G</text>
<text transform="matrix(0.3964 .001 .001 0.1070 666.43 229.79)" fill="#0000ff">C</text>
<text transform="matrix(0.3659 .001 .001 0.8262 668.23 221.85)" fill="#ff0000">T</text>
<text transform="matrix(0.3217 .001 .001 0.0378 694.13 242.50)" fill="#008000">A</text>
<text transform="matrix(0.3659 .001 .001 0.0427 694.10 239.74)" fill="#ff0000">T</text>
<text transform="matrix(0.3964 .001 .001 2.3126 692.31 233.36)" fill="#0000ff">C</text>
<text transform="matrix(0.3526 .001 .001 0.0262 718.40 242.46)" fill="#ffa500">G</text>
<text transform="matrix(0.3217 .001 .001 0.1323 720.00 240.52)" fill="#008000">A</text>
<text transform="matrix(0.3964 .001 .001 1.9950 718.18 228.05)" fill="#0000ff">C</text>
<text transform="matrix(0.3964 .001 .001 0.0364 744.06 242.45)" fill="#0000ff">C</text>
<text transform="matrix(0.3659 .001 .001 0.0704 745.86 239.74)" fill="#ff0000">T</text>
<text transform="matrix(0.3526 .001 .001 0.0864 744.28 234.49)" fill="#ffa500">G</text>
<text transform="matrix(0.3217 .001 .001 1.7754 745.88 228.07)" fill="#008000">A</text>
<text transform="matrix(0.3217 .001 .001 0.0229 771.75 242.50)" fill="#008000">A</text>
<text transform="matrix(0.3526 .001 .001 0.1070 770.16 240.68)" fill="#ffa500">G</text>
<text transform="matrix(0.3964 .001 .001 0.1543 769.94 232.52)" fill="#0000ff">C</text>
<text transform="matrix(0.3659 .001 .001 1.1248 771.73 221.07)" fill="#ff0000">T</text>
<text transform="matrix(0.3526 .001 .001 0.0364 796.03 242.45)" fill="#ffa500">G</text>
<text transform="matrix(0.3217 .001 .001 0.0427 797.63 239.74)" fill="#008000">A</text>
<text transform="matrix(0.3964 .001 .001 0.0514 795.81 236.56)" fill="#0000ff">C</text>
<text transform="matrix(0.3659 .001 .001 0.0960 797.61 232.74)" fill="#ff0000">T</text>
<text transform="matrix(0.3964 .001 .001 0.0426 821.69 242.44)" fill="#0000ff">C</text>
<text transform="matrix(0.3526 .001 .001 0.0658 821.91 239.18)" fill="#ffa500">G</text>
<text transform="matrix(0.3659 .001 .001 0.1537 823.49 234.30)" fill="#ff0000">T</text>
<text transform="matrix(0.3217 .001 .001 0.3799 823.51 223.10)" fill="#008000">A</text>
<text transform="matrix(0.3526 .001 .001 0.0673 847.78 242.40)" fill="#ffa500">G</text>
<text transform="matrix(0.3964 .001 .001 0.0987 847.57 237.27)" fill="#0000ff">C</text>
<text transform="matrix(0.3217 .001 .001 0.1110 849.38 229.94)" fill="#008000">A</text>
<text transform="matrix(0.3659 .001 .001 0.8796 849.36 221.85)" fill="#ff0000">T</text>
<text transform="matrix(0.3526 .001 .001 0.0632 873.66 242.41)" fill="#ffa500">G</text>
<text transform="matrix(0.3217 .001 .001 0.0790 875.26 237.72)" fill="#008000">A</text>
<text transform="matrix(0.3964 .001 .001 0.1337 873.44 231.77)" fill="#0000ff">C</text>
<text transform="matrix(0.3659 .001 .001 0.9702 875.24 221.85)" fill="#ff0000">T</text>
</g>
<path d="M137.50 243.30v5.1M163.50 243.30v5.1M189.50 243.30v5.1M215.50 243.30v5.1M241.50 243.30v5.1M267.50 243.30v5.1M293.50 243.30v5.1M318.50 243.30v5.1M344.50 243.30v5.1M370.50 243.30v5.1M396.50 243.30v5.1M422.50 243.30v5.1M448.50 243.30v5.1M474.50 243.30v5.1M500.50 243.30v5.1M525.50 243.30v5.1M551.50 243.30v5.1M577.50 243.30v5.1M603.50 243.30v5.1M629.50 243.30v5.1M655.50 243.30v5.1M681.50 243.30v5.1M707.50 243.30v5.1M732.50 243.30v5.1M758.50 243.30v5.1M784.50 243.30v5.1M810.50 243.30v5.1M836.50 243.30v5.1M862.50 243.30v5.1M888.50 243.30v5.1M125.70 243.50h-5.3M125.70 191.50h-5.3M125.70 140.50h-5.3M125.70 88.50h-5.3" stroke="#000" stroke-width="1.2" fill="none"/>
<g class="tl" text-anchor="middle">
<text x="137.39" y="262.80">1</text>
<text x="163.27" y="262.80">2</text>
<text x="189.14" y="262.80">3</text>
<text x="215.02" y="262.80">4</text>
<text x="240.90" y="262.80">5</text>
<text x="266.77" y="262.80">6</text>
<text x="292.65" y="262.80">7</text>
<text x="318.53" y="262.80">8</text>
<text x="344.40" y="262.80">9</text>
<text x="369.68" y="262.80">10</text>
<text x="395.56" y="262.80">11</text>
<text x="421.43" y="262.80">12</text>
<text x="447.31" y="262.80">13</text>
<text x="473.19" y="262.80">14</text>
<text x="499.06" y="262.80">15</text>
<text x="524.94" y="262.80">16</text>
<text x="550.81" y="262.80">17</text>
<text x="576.69" y="262.80">18</text>
<text x="602.57" y="262.80">19</text>
<text x="628.44" y="262.80">20</text>
<text x="654.32" y="262.80">21</text>
<text x="680.20" y="262.80">22</text>
<text x="706.07" y="262.80">23</text>
<text x="731.95" y="262.80">24</text>
<text x="757.83" y="262.80">25</text>
<text x="783.70" y="262.80">26</text>
<text x="809.58" y="262.80">27</text>
<text x="835.46" y="262.80">28</text>
<text x="861.33" y="262.80">29</text>
<text x="887.21" y="262.80">30</text>
</g>
<g class="tl y" text-anchor="end">
<text x="114.40" y="248.00">0.0</text>
<text x="114.40" y="197.00">0.5</text>
<text x="114.40" y="145.00">1.0</text>
<text x="114.40" y="94.00">1.5</text>
</g>
</g>
<g transform="translate(3150 300)">
<g clip-path="url(#axclip)" class="lg">
<text transform="matrix(0.3217 .001 .001 0.0229 124.84 242.50)" fill="#008000">A</text>
<text transform="matrix(0.3659 .001 .001 0.0854 124.82 240.83)" fill="#ff0000">T</text>
<text transform="matrix(0.3964 .001 .001 0.1029 123.03 234.46)" fill="#0000ff">C</text>
<text transform="matrix(0.3526 .001 .001 0.1995 123.24 226.55)" fill="#ffa500">G</text>
<text transform="matrix(0.3659 .001 .001 0.0165 150.70 242.50)" fill="#ff0000">T</text>
<text transform="matrix(0.3964 .001 .001 0.0679 148.90 241.20)" fill="#0000ff">C</text>
<text transform="matrix(0.3217 .001 .001 0.1643 150.72 236.16)" fill="#008000">A</text>
<text transform="matrix(0.3526 .001 .001 0.1646 149.12 223.95)" fill="#ffa500">G</text>
<text transform="matrix(0.3217 .001 .001 0.0165 176.60 242.50)" fill="#008000">A</text>
<text transform="matrix(0.3526 .001 .001 0.0411 175.00 241.24)" fill="#ffa500">G</text>
<text transform="matrix(0.3964 .001 .001 0.0617 174.78 238.10)" fill="#0000ff">C</text>
<text transform="matrix(0.3659 .001 .001 0.0790 176.57 233.52)" fill="#ff0000">T</text>
<text transform="matrix(0.3526 .001 .001 0.0220 200.87 242.47)" fill="#ffa500">G</text>
<text transform="matrix(0.3964 .001 .001 0.0823 200.66 240.72)" fill="#0000ff">C</text>
<text transform="matrix(0.3217 .001 .001 0.1323 202.47 234.61)" fill="#008000">A</text>
<text transform="matrix(0.3659 .001 .001 0.2881 202.45 224.96)" fill="#ff0000">T</text>
<text transform="matrix(0.3217 .001 .001 0.0741 228.35 242.50)" fill="#008000">A</text>
<text transform="matrix(0.3964 .001 .001 0.0576 226.53 237.02)" fill="#0000ff">C</text>
<text transform="matrix(0.3526 .001 .001 0.1029 226.75 232.60)" fill="#ffa500">G</text>
<text transform="matrix(0.3659 .001 .001 0.4524 228.33 224.96)" fill="#ff0000">T</text>
<text transform="matrix(0.3217 .001 .001 0.1232 254.23 242.50)" fill="#008000">A</text>
<text transform="matrix(0.3964 .001 .001 2.0556 252.41 230.61)" fill="#0000ff">C</text>
<text transform="matrix(0.3659 .001 .001 0.0869 280.08 242.50)" fill="#ff0000">T</text>
<text transform="matrix(0.3217 .001 .001 0.1643 280.10 236.16)" fill="#008000">A</text>
<text transform="matrix(0.3964 .001 .001 1.3515 278.28 222.27)" fill="#0000ff">C</text>
<text transform="matrix(0.3217 .001 .001 2.6406 305.98 242.50)" fill="#008000">A</text>
<text transform="matrix(0.3217 .001 .001 0.0912 331.85 242.50)" fill="#008000">A</text>
<text transform="matrix(0.3526 .001 .001 0.0987 330.26 235.71)" fill="#ffa500">G</text>
<text transform="matrix(0.3659 .001 .001 1.6891 331.83 228.39)" fill="#ff0000">T</text>
<text transform="matrix(0.3217 .001 .001 0.4497 357.73 242.50)" fill="#008000">A</text>
<text transform="matrix(0.3659 .001 .001 1.0224 357.71 209.72)" fill="#ff0000">T</text>
<text transform="matrix(0.3964 .001 .001 0.0632 381.79 242.41)" fill="#0000ff">C</text>
<text transform="matrix(0.3659 .001 .001 0.0683 383.59 237.72)" fill="#ff0000">T</text>
<text transform="matrix(0.3217 .001 .001 0.1280 383.61 232.74)" fill="#008000">A</text>
<text transform="matrix(0.3526 .001 .001 0.9968 382.01 222.00)" fill="#ffa500">G</text>
<text transform="matrix(0.3217 .001 .001 0.0485 409.48 242.50)" fill="#008000">A</text>
<text transform="matrix(0.3526 .001 .001 0.0514 407.89 238.89)" fill="#ffa500">G</text>
<text transform="matrix(0.3964 .001 .001 0.1851 407.67 234.81)" fill="#0000ff">C</text>
<text transform="matrix(0.3659 .001 .001 0.6823 409.46 221.07)" fill="#ff0000">T</text>
<text transform="matrix(0.3217 .001 .001 0.0592 435.36 242.50)" fill="#008000">A</text>
<text transform="matrix(0.3964 .001 .001 0.4320 433.54 237.58)" fill="#0000ff">C</text>
<text transform="matrix(0.3659 .001 .001 0.4955 435.34 205.52)" fill="#ff0000">T</text>
<text transform="matrix(0.3964 .001 .001 0.0220 459.42 242.47)" fill="#0000ff">C</text>
<text transform="matrix(0.3526 .001 .001 0.0247 459.64 240.80)" fill="#ffa500">G</text>
<text transform="matrix(0.3217 .001 .001 0.0534 461.24 238.97)" fill="#008000">A</text>
<text transform="matrix(0.3659 .001 .001 0.0747 461.22 235.08)" fill="#ff0000">T</text>
<text transform="matrix(0.3217 .001 .001 0.0271 487.11 242.50)" fill="#008000">A</text>
<text transform="matrix(0.3526 .001 .001 0.0453 485.51 240.46)" fill="#ffa500">G</text>
<text transform="matrix(0.3659 .001 .001 0.0598 487.09 237.10)" fill="#ff0000">T</text>
<text transform="matrix(0.3964 .001 .001 0.1070 485.30 232.59)" fill="#0000ff">C</text>
<text transform="matrix(0.3217 .001 .001 0.0314 512.99 242.50)" fill="#008000">A</text>
<text transform="matrix(0.3964 .001 .001 0.0473 511.17 240.14)" fill="#0000ff">C</text>
<text transform="matrix(0.3526 .001 .001 0.0885 511.39 236.51)" fill="#ffa500">G</text>
<text transform="matrix(0.3659 .001 .001 0.1643 512.97 229.94)" fill="#ff0000">T</text>
<text transform="matrix(0.3526 .001 .001 0.0220 537.27 242.47)" fill="#ffa500">G</text>
<text transform="matrix(0.3217 .001 .001 0.0299 538.87 240.83)" fill="#008000">A</text>
<text transform="matrix(0.3964 .001 .001 0.0159 562.93 242.48)" fill="#0000ff">C</text>
<text transform="matrix(0.3526 .001 .001 0.0144 563.14 241.28)" fill="#ffa500">G</text>
<text transform="matrix(0.3217 .001 .001 0.0341 564.74 240.21)" fill="#008000">A</text>
<text transform="matrix(0.3659 .001 .001 0.0405 564.72 237.72)" fill="#ff0000">T</text>
<text transform="matrix(0.3964 .001 .001 0.0364 588.80 242.45)" fill="#0000ff">C</text>
<text transform="matrix(0.3217 .001 .001 0.1067 590.62 239.74)" fill="#008000">A</text>
<text transform="matrix(0.3526 .001 .001 0.1090 589.02 231.81)" fill="#ffa500">G</text>
<text transform="matrix(0.3659 .001 .001 0.4781 590.60 223.72)" fill="#ff0000">T</text>
<text transform="matrix(0.3217 .001 .001 0.0592 616.50 242.50)" fill="#008000">A</text>
<text transform="matrix(0.3964 .001 .001 0.0617 614.68 238.10)" fill="#0000ff">C</text>
<text transform="matrix(0.3659 .001 .001 0.0491 616.47 233.52)" fill="#ff0000">T</text>
<text transform="matrix(0.3526 .001 .001 0.2057 614.90 229.65)" fill="#ffa500">G</text>
<text transform="matrix(0.3526 .001 .001 0.0508 640.77 242.43)" fill="#ffa500">G</text>
<text transform="matrix(0.3964 .001 .001 0.1029 640.55 238.51)" fill="#0000ff">C</text>
<text transform="matrix(0.3659 .001 .001 0.1067 642.35 230.88)" fill="#ff0000">T</text>
<text transform="matrix(0.3217 .001 .001 0.8060 642.37 223.10)" fill="#008000">A</text>
<text transform="matrix(0.3964 .001 .001 0.0426 666.43 242.44)" fill="#0000ff">C</text>
<text transform="matrix(0.3659 .001 .001 0.0470 668.23 239.28)" fill="#ff0000">T</text>
<text transform="matrix(0.3217 .001 .001 0.1280 668.25 235.85)" fill="#008000">A</text>
<text transform="matrix(0.3526 .001 .001 0.2468 666.65 226.17)" fill="#ffa500">G</text>
<text transform="matrix(0.3526 .001 .001 0.0364 692.53 242.45)" fill="#ffa500">G</text>
<text transform="matrix(0.3964 .001 .001 0.0720 692.31 239.64)" fill="#0000ff">C</text>
<text transform="matrix(0.3659 .001 .001 0.1537 694.10 234.30)" fill="#ff0000">T</text>
<text transform="matrix(0.3217 .001 .001 0.4055 694.13 223.10)" fill="#008000">A</text>
<text transform="matrix(0.3964 .001 .001 0.1599 718.18 242.27)" fill="#0000ff">C</text>
<text transform="matrix(0.3659 .001 .001 0.1601 719.98 230.41)" fill="#ff0000">T</text>
<text transform="matrix(0.3217 .001 .001 0.7569 720.00 218.74)" fill="#008000">A</text>
<text transform="matrix(0.3217 .001 .001 0.4796 745.88 242.50)" fill="#008000">A</text>
<text transform="matrix(0.3526 .001 .001 0.8538 744.28 206.33)" fill="#ffa500">G</text>
<text transform="matrix(0.3217 .001 .001 0.1168 771.75 242.50)" fill="#008000">A</text>
<text transform="matrix(0.3659 .001 .001 2.1392 771.73 233.99)" fill="#ff0000">T</text>
<text transform="matrix(0.3659 .001 .001 0.0698 797.61 242.50)" fill="#ff0000">T</text>
<text transform="matrix(0.3217 .001 .001 0.2668 797.63 237.41)" fill="#008000">A</text>
<text transform="matrix(0.3964 .001 .001 0.9608 795.81 216.60)" fill="#0000ff">C</text>
<text transform="matrix(0.3526 .001 .001 0.1290 821.91 242.32)" fill="#ffa500">G</text>
<text transform="matrix(0.3659 .001 .001 0.2070 823.49 232.74)" fill="#ff0000">T</text>
<text transform="matrix(0.3217 .001 .001 0.5180 823.51 217.65)" fill="#008000">A</text>
<text transform="matrix(0.3217 .001 .001 0.0528 849.38 242.50)" fill="#008000">A</text>
<text transform="matrix(0.3964 .001 .001 0.1090 847.57 238.50)" fill="#0000ff">C</text>
<text transform="matrix(0.3659 .001 .001 0.1067 849.36 230.41)" fill="#ff0000">T</text>
<text transform="matrix(0.3526 .001 .001 0.7655 847.78 221.55)" fill="#ffa500">G</text>
<text transform="matrix(0.3217 .001 .001 0.0528 875.26 242.50)" fill="#008000">A</text>
<text transform="matrix(0.3659 .001 .001 0.4482 875.24 238.65)" fill="#ff0000">T</text>
<text transform="matrix(0.3964 .001 .001 0.4940 873.44 205.28)" fill="#0000ff">C</text>
</g>
<path d="M137.50 243.30v5.1M163.50 243.30v5.1M189.50 243.30v5.1M215.50 243.30v5.1M241.50 243.30v5.1M267.50 243.30v5.1M293.50 243.30v5.1M318.50 243.30v5.1M344.50 243.30v5.1M370.50 243.30v5.1M396.50 243.30v5.1M422.50 243.30v5.1M448.50 243.30v5.1M474.50 243.30v5.1M500.50 243.30v5.1M525.50 243.30v5.1M551.50 243.30v5.1M577.50 243.30v5.1M603.50 243.30v5.1M629.50 243.30v5.1M655.50 243.30v5.1M681.50 243.30v5.1M707.50 243.30v5.1M732.50 243.30v5.1M758.50 243.30v5.1M784.50 243.30v5.1M810.50 243.30v5.1M836.50 243.30v5.1M862.50 243.30v5.1M888.50 243.30v5.1M125.70 243.50h-5.3M125.70 194.50h-5.3M125.70 146.50h-5.3M125.70 98.50h-5.3M125.70 50.50h-5.3" stroke="#000" stroke-width="1.2" fill="none"/>
<g class="tl" text-anchor="middle">
<text x="137.39" y="262.80">1</text>
<text x="163.27" y="262.80">2</text>
<text x="189.14" y="262.80">3</text>
<text x="215.02" y="262.80">4</text>
<text x="240.90" y="262.80">5</text>
<text x="266.77" y="262.80">6</text>
<text x="292.65" y="262.80">7</text>
<text x="318.53" y="262.80">8</text>
<text x="344.40" y="262.80">9</text>
<text x="369.68" y="262.80">10</text>
<text x="395.56" y="262.80">11</text>
<text x="421.43" y="262.80">12</text>
<text x="447.31" y="262.80">13</text>
<text x="473.19" y="262.80">14</text>
<text x="499.06" y="262.80">15</text>
<text x="524.94" y="262.80">16</text>
<text x="550.81" y="262.80">17</text>
<text x="576.69" y="262.80">18</text>
<text x="602.57" y="262.80">19</text>
<text x="628.44" y="262.80">20</text>
<text x="654.32" y="262.80">21</text>
<text x="680.20" y="262.80">22</text>
<text x="706.07" y="262.80">23</text>
<text x="731.95" y="262.80">24</text>
<text x="757.83" y="262.80">25</text>
<text x="783.70" y="262.80">26</text>
<text x="809.58" y="262.80">27</text>
<text x="835.46" y="262.80">28</text>
<text x="861.33" y="262.80">29</text>
<text x="887.21" y="262.80">30</text>
</g>
<g class="tl y" text-anchor="end">
<text x="114.40" y="248.00">0.0</text>
<text x="114.40" y="200.00">0.5</text>
<text x="114.40" y="152.00">1.0</text>
<text x="114.40" y="104.00">1.5</text>
<text x="114.40" y="56.00">2.0</text>
</g>
</g>
<g transform="translate(0 600)">
<g clip-path="url(#axclip)" class="lg">
<text transform="matrix(0.3964 .001 .001 0.0879 123.03 242.38)" fill="#0000ff">C</text>
<text transform="matrix(0.3217 .001 .001 0.3308 124.84 235.85)" fill="#008000">A</text>
<text transform="matrix(0.3526 .001 .001 0.4057 123.24 211.16)" fill="#ffa500">G</text>
<text transform="matrix(0.3526 .001 .001 0.0920 149.12 242.37)" fill="#ffa500">G</text>
<text transform="matrix(0.3659 .001 .001 0.2838 150.70 235.54)" fill="#ff0000">T</text>
<text transform="matrix(0.3217 .001 .001 0.5542 150.72 214.85)" fill="#008000">A</text>
<text transform="matrix(0.3526 .001 .001 0.0879 175.00 242.38)" fill="#ffa500">G</text>
<text transform="matrix(0.3659 .001 .001 0.3308 176.57 235.85)" fill="#ff0000">T</text>
<text transform="matrix(0.3217 .001 .001 0.4209 176.60 211.74)" fill="#008000">A</text>
<text transform="matrix(0.3659 .001 .001 0.0954 202.45 242.50)" fill="#ff0000">T</text>
<text transform="matrix(0.3526 .001 .001 0.3147 200.87 235.10)" fill="#ffa500">G</text>
<text transform="matrix(0.3217 .001 .001 0.4316 202.47 211.74)" fill="#008000">A</text>
<text transform="matrix(0.3217 .001 .001 0.5436 228.35 242.50)" fill="#008000">A</text>
<text transform="matrix(0.3659 .001 .001 0.8218 228.33 202.87)" fill="#ff0000">T</text>
<text transform="matrix(0.3964 .001 .001 2.5451 252.41 238.90)" fill="#0000ff">C</text>
<text transform="matrix(0.3964 .001 .001 0.0920 278.28 242.37)" fill="#0000ff">C</text>
<text transform="matrix(0.3659 .001 .001 0.2838 280.08 235.54)" fill="#ff0000">T</text>
<text transform="matrix(0.3217 .001 .001 0.5542 280.10 214.85)" fill="#008000">A</text>
<text transform="matrix(0.3659 .001 .001 0.3430 305.96 242.50)" fill="#ff0000">T</text>
<text transform="matrix(0.3526 .001 .001 1.3041 304.38 215.65)" fill="#ffa500">G</text>
<text transform="matrix(0.3964 .001 .001 2.5451 330.04 238.90)" fill="#0000ff">C</text>
<text transform="matrix(0.3526 .001 .001 0.0920 356.13 242.37)" fill="#ffa500">G</text>
<text transform="matrix(0.3217 .001 .001 0.2774 357.73 235.54)" fill="#008000">A</text>
<text transform="matrix(0.3659 .001 .001 0.5500 357.71 215.32)" fill="#ff0000">T</text>
<text transform="matrix(0.3217 .001 .001 0.2085 383.61 242.50)" fill="#008000">A</text>
<text transform="matrix(0.3526 .001 .001 1.7524 382.01 224.82)" fill="#ffa500">G</text>
<text transform="matrix(0.3217 .001 .001 0.6631 409.48 242.50)" fill="#008000">A</text>
<text transform="matrix(0.3659 .001 .001 0.6597 409.46 194.16)" fill="#ff0000">T</text>
<text transform="matrix(0.3659 .001 .001 0.3430 435.34 242.50)" fill="#ff0000">T</text>
<text transform="matrix(0.3964 .001 .001 1.3041 433.54 215.65)" fill="#0000ff">C</text>
<text transform="matrix(0.3964 .001 .001 0.1228 459.42 242.33)" fill="#0000ff">C</text>
<text transform="matrix(0.3217 .001 .001 0.2518 461.24 233.21)" fill="#008000">A</text>
<text transform="matrix(0.3659 .001 .001 0.2625 461.22 214.85)" fill="#ff0000">T</text>
<text transform="matrix(0.3217 .001 .001 0.0912 487.11 242.50)" fill="#008000">A</text>
<text transform="matrix(0.3964 .001 .001 0.0782 485.30 235.74)" fill="#0000ff">C</text>
<text transform="matrix(0.3526 .001 .001 0.0802 485.51 229.83)" fill="#ffa500">G</text>
<text transform="matrix(0.3659 .001 .001 0.5874 487.09 223.87)" fill="#ff0000">T</text>
<text transform="matrix(0.3964 .001 .001 0.1599 511.17 242.27)" fill="#0000ff">C</text>
<text transform="matrix(0.3526 .001 .001 0.1646 511.39 230.18)" fill="#ffa500">G</text>
<text transform="matrix(0.3659 .001 .001 0.4956 512.97 217.96)" fill="#ff0000">T</text>
<text transform="matrix(0.3217 .001 .001 0.0656 538.87 242.50)" fill="#008000">A</text>
<text transform="matrix(0.3526 .001 .001 0.0555 537.27 237.64)" fill="#ffa500">G</text>
<text transform="matrix(0.3659 .001 .001 0.1067 538.84 233.52)" fill="#ff0000">T</text>
<text transform="matrix(0.3964 .001 .001 0.3291 537.05 225.27)" fill="#0000ff">C</text>
<text transform="matrix(0.3217 .001 .001 0.1445 564.74 242.50)" fill="#008000">A</text>
<text transform="matrix(0.3526 .001 .001 0.1378 563.14 231.77)" fill="#ffa500">G</text>
<text transform="matrix(0.3659 .001 .001 1.1312 564.72 221.54)" fill="#ff0000">T</text>
<text transform="matrix(0.3526 .001 .001 0.1331 589.02 242.31)" fill="#ffa500">G</text>
<text transform="matrix(0.3217 .001 .001 0.1985 590.62 232.43)" fill="#008000">A</text>
<text transform="matrix(0.3659 .001 .001 0.3415 590.60 217.96)" fill="#ff0000">T</text>
<text transform="matrix(0.3659 .001 .001 0.0378 616.47 242.50)" fill="#ff0000">T</text>
<text transform="matrix(0.3964 .001 .001 0.0617 614.68 239.66)" fill="#0000ff">C</text>
<text transform="matrix(0.3526 .001 .001 0.0555 614.90 235.00)" fill="#ffa500">G</text>
<text transform="matrix(0.3217 .001 .001 0.1665 616.50 230.88)" fill="#008000">A</text>
<text transform="matrix(0.3217 .001 .001 0.1659 642.37 242.50)" fill="#008000">A</text>
<text transform="matrix(0.3964 .001 .001 0.1646 640.55 230.18)" fill="#0000ff">C</text>
<text transform="matrix(0.3659 .001 .001 0.4973 642.35 217.96)" fill="#ff0000">T</text>
<text transform="matrix(0.3217 .001 .001 0.0378 668.25 242.50)" fill="#008000">A</text>
<text transform="matrix(0.3964 .001 .001 0.0555 666.43 239.66)" fill="#0000ff">C</text>
<text transform="matrix(0.3526 .001 .001 0.0679 666.65 235.45)" fill="#ffa500">G</text>
<text transform="matrix(0.3659 .001 .001 0.1601 668.23 230.41)" fill="#ff0000">T</text>
<text transform="matrix(0.3217 .001 .001 0.1381 694.13 242.50)" fill="#008000">A</text>
<text transform="matrix(0.3526 .001 .001 0.1913 692.53 232.16)" fill="#ffa500">G</text>
<text transform="matrix(0.3659 .001 .001 0.3415 694.10 217.96)" fill="#ff0000">T</text>
<text transform="matrix(0.3526 .001 .001 0.0262 718.40 242.46)" fill="#ffa500">G</text>
<text transform="matrix(0.3964 .001 .001 0.0370 718.18 240.47)" fill="#0000ff">C</text>
<text transform="matrix(0.3217 .001 .001 0.0683 720.00 237.72)" fill="#008000">A</text>
<text transform="matrix(0.3659 .001 .001 0.0683 719.98 232.74)" fill="#ff0000">T</text>
<text transform="matrix(0.3659 .001 .001 0.0378 745.86 242.50)" fill="#ff0000">T</text>
<text transform="matrix(0.3964 .001 .001 0.0555 744.06 239.66)" fill="#0000ff">C</text>
<text transform="matrix(0.3526 .001 .001 0.0617 744.28 235.46)" fill="#ffa500">G</text>
<text transform="matrix(0.3217 .001 .001 0.1665 745.88 230.88)" fill="#008000">A</text>
<text transform="matrix(0.3659 .001 .001 0.0378 771.73 242.50)" fill="#ff0000">T</text>
<text transform="matrix(0.3964 .001 .001 0.0555 769.94 239.66)" fill="#0000ff">C</text>
<text transform="matrix(0.3526 .001 .001 0.0617 770.16 235.46)" fill="#ffa500">G</text>
<text transform="matrix(0.3217 .001 .001 0.1665 771.75 230.88)" fill="#008000">A</text>
<text transform="matrix(0.3526 .001 .001 0.0364 796.03 242.45)" fill="#ffa500">G</text>
<text transform="matrix(0.3217 .001 .001 0.0576 797.63 239.74)" fill="#008000">A</text>
<text transform="matrix(0.3964 .001 .001 0.0679 795.81 235.45)" fill="#0000ff">C</text>
<text transform="matrix(0.3659 .001 .001 0.1601 797.61 230.41)" fill="#ff0000">T</text>
<text transform="matrix(0.3526 .001 .001 0.5198 821.91 241.76)" fill="#ffa500">G</text>
<text transform="matrix(0.3659 .001 .001 0.8261 823.49 203.18)" fill="#ff0000">T</text>
<text transform="matrix(0.3964 .001 .001 0.0262 847.57 242.46)" fill="#0000ff">C</text>
<text transform="matrix(0.3526 .001 .001 0.0370 847.78 240.47)" fill="#ffa500">G</text>
<text transform="matrix(0.3217 .001 .001 0.0640 849.38 237.72)" fill="#008000">A</text>
<text transform="matrix(0.3659 .001 .001 0.0726 849.36 233.05)" fill="#ff0000">T</text>
<text transform="matrix(0.3217 .001 .001 0.1659 875.26 242.50)" fill="#008000">A</text>
<text transform="matrix(0.3964 .001 .001 0.1646 873.44 230.18)" fill="#0000ff">C</text>
<text transform="matrix(0.3659 .001 .001 0.4956 875.24 217.96)" fill="#ff0000">T</text>
</g>
<path d="M137.50 243.30v5.1M163.50 243.30v5.1M189.50 243.30v5.1M215.50 243.30v5.1M241.50 243.30v5.1M267.50 243.30v5.1M293.50 243.30v5.1M318.50 243.30v5.1M344.50 243.30v5.1M370.50 243.30v5.1M396.50 243.30v5.1M422.50 243.30v5.1M448.50 243.30v5.1M474.50 243.30v5.1M500.50 243.30v5.1M525.50 243.30v5.1M551.50 243.30v5.1M577.50 243.30v5.1M603.50 243.30v5.1M629.50 243.30v5.1M655.50 243.30v5.1M681.50 243.30v5.1M707.50 243.30v5.1M732.50 243.30v5.1M758.50 243.30v5.1M784.50 243.30v5.1M810.50 243.30v5.1M836.50 243.30v5.1M862.50 243.30v5.1M888.50 243.30v5.1M125.70 243.50h-5.3M125.70 194.50h-5.3M125.70 146.50h-5.3M125.70 98.50h-5.3M125.70 50.50h-5.3" stroke="#000" stroke-width="1.2" fill="none"/>
<g class="tl" text-anchor="middle">
<text x="137.39" y="262.80">1</text>
<text x="163.27" y="262.80">2</text>
<text x="189.14" y="262.80">3</text>
<text x="215.02" y="262.80">4</text>
<text x="240.90" y="262.80">5</text>
<text x="266.77" y="262.80">6</text>
<text x="292.65" y="262.80">7</text>
<text x="318.53" y="262.80">8</text>
<text x="344.40" y="262.80">9</text>
<text x="369.68" y="262.80">10</text>
<text x="395.56" y="262.80">11</text>
<text x="421.43" y="262.80">12</text>
<text x="447.31" y="262.80">13</text>
<text x="473.19" y="262.80">14</text>
<text x="499.06" y="262.80">15</text>
<text x="524.94" y="262.80">16</text>
<text x="550.81" y="262.80">17</text>
<text x="576.69" y="262.80">18</text>
<text x="602.57" y="262.80">19</text>
<text x="628.44" y="262.80">20</text>
<text x="654.32" y="262.80">21</text>
<text x="680.20" y="262.80">22</text>
<text x="706.07" y="262.80">23</text>
<text x="731.95" y="262.80">24</text>
<text x="757.83" y="262.80">25</text>
<text x="783.70" y="262.80">26</text>
<text x="809.58" y="262.80">27</text>
<text x="835.46" y="262.80">28</text>
<text x="861.33" y="262.80">29</text>
<text x="887.21" y="262.80">30</text>
</g>
<g class="tl y" text-anchor="end">
<text x="114.40" y="248.00">0.0</text>
<text x="114.40" y="200.00">0.5</text>
<text x="114.40" y="152.00">1.0</text>
<text x="114.40" y="104.00">1.5</text>
<text x="114.40" y="56.00">2.0</text>
</g>
</g>
</svg>
<div class="t" style="left:0px;top:0px"><span style="left:0.06px;transform:scaleX(1.080)">pattern</span><span style="left:152.83px;top:-4.2px;transform:scaleX(0.930)">_</span><span style="left:177.31px;transform:scaleX(0.997)">1, </span><span style="left:225.70px;transform:scaleX(0.999)">n=2992; </span><span style="left:399.65px;transform:scaleX(1.055)">subpattern</span><span style="left:624.90px;top:-4.2px;transform:scaleX(0.915)">_</span><span style="left:650.20px;transform:scaleX(0.988)">0, </span><span style="left:697.46px;transform:scaleX(0.980)">ns=750</span></div>
<div class="t" style="left:1050px;top:0px"><span style="left:0.06px;transform:scaleX(1.080)">pattern</span><span style="left:152.83px;top:-4.2px;transform:scaleX(0.930)">_</span><span style="left:177.31px;transform:scaleX(0.997)">1, </span><span style="left:225.70px;transform:scaleX(0.999)">n=2992; </span><span style="left:399.65px;transform:scaleX(1.055)">subpattern</span><span style="left:624.90px;top:-4.2px;transform:scaleX(0.915)">_</span><span style="left:650.20px;transform:scaleX(0.988)">1, </span><span style="left:697.46px;transform:scaleX(0.980)">ns=652</span></div>
<div class="t" style="left:2100px;top:0px"><span style="left:0.06px;transform:scaleX(1.080)">pattern</span><span style="left:152.83px;top:-4.2px;transform:scaleX(0.930)">_</span><span style="left:177.31px;transform:scaleX(0.997)">1, </span><span style="left:225.70px;transform:scaleX(0.999)">n=2992; </span><span style="left:399.65px;transform:scaleX(1.055)">subpattern</span><span style="left:624.90px;top:-4.2px;transform:scaleX(0.915)">_</span><span style="left:650.20px;transform:scaleX(0.988)">2, </span><span style="left:697.46px;transform:scaleX(0.980)">ns=531</span></div>
<div class="t" style="left:3150px;top:0px"><span style="left:0.06px;transform:scaleX(1.080)">pattern</span><span style="left:152.83px;top:-4.2px;transform:scaleX(0.930)">_</span><span style="left:177.31px;transform:scaleX(0.997)">1, </span><span style="left:225.70px;transform:scaleX(0.999)">n=2992; </span><span style="left:399.65px;transform:scaleX(1.055)">subpattern</span><span style="left:624.90px;top:-4.2px;transform:scaleX(0.915)">_</span><span style="left:650.20px;transform:scaleX(0.988)">3, </span><span style="left:697.46px;transform:scaleX(0.980)">ns=431</span></div>
<div class="t" style="left:0px;top:300px"><span style="left:0.06px;transform:scaleX(1.080)">pattern</span><span style="left:152.83px;top:-4.2px;transform:scaleX(0.930)">_</span><span style="left:177.31px;transform:scaleX(0.997)">1, </span><span style="left:225.70px;transform:scaleX(0.999)">n=2992; </span><span style="left:399.65px;transform:scaleX(1.055)">subpattern</span><span style="left:624.90px;top:-4.2px;transform:scaleX(0.915)">_</span><span style="left:650.20px;transform:scaleX(0.988)">4, </span><span style="left:697.46px;transform:scaleX(0.980)">ns=325</span></div>
<div class="t" style="left:1050px;top:300px"><span style="left:0.06px;transform:scaleX(1.080)">pattern</span><span style="left:152.83px;top:-4.2px;transform:scaleX(0.930)">_</span><span style="left:177.31px;transform:scaleX(0.997)">1, </span><span style="left:225.70px;transform:scaleX(0.999)">n=2992; </span><span style="left:399.65px;transform:scaleX(1.055)">subpattern</span><span style="left:624.90px;top:-4.2px;transform:scaleX(0.915)">_</span><span style="left:650.20px;transform:scaleX(0.988)">5, </span><span style="left:697.46px;transform:scaleX(0.980)">ns=141</span></div>
<div class="t" style="left:2100px;top:300px"><span style="left:0.06px;transform:scaleX(1.080)">pattern</span><span style="left:152.83px;top:-4.2px;transform:scaleX(0.930)">_</span><span style="left:177.31px;transform:scaleX(0.997)">1, </span><span style="left:225.70px;transform:scaleX(0.999)">n=2992; </span><span style="left:399.65px;transform:scaleX(1.055)">subpattern</span><span style="left:624.90px;top:-4.2px;transform:scaleX(0.915)">_</span><span style="left:650.20px;transform:scaleX(0.988)">6, </span><span style="left:697.46px;transform:scaleX(0.980)">ns=132</span></div>
<div class="t" style="left:3150px;top:300px"><span style="left:0.06px;transform:scaleX(1.080)">pattern</span><span style="left:152.83px;top:-4.2px;transform:scaleX(0.930)">_</span><span style="left:177.31px;transform:scaleX(0.997)">1, </span><span style="left:225.70px;transform:scaleX(0.999)">n=2992; </span><span style="left:399.65px;transform:scaleX(1.055)">subpattern</span><span style="left:624.90px;top:-4.2px;transform:scaleX(0.915)">_</span><span style="left:650.20px;transform:scaleX(0.988)">7, </span><span style="left:697.46px;transform:scaleX(0.982)">ns=20</span></div>
<div class="t" style="left:0px;top:600px"><span style="left:0.06px;transform:scaleX(1.080)">pattern</span><span style="left:152.83px;top:-4.2px;transform:scaleX(0.930)">_</span><span style="left:177.31px;transform:scaleX(0.997)">1, </span><span style="left:225.70px;transform:scaleX(0.999)">n=2992; </span><span style="left:399.65px;transform:scaleX(1.055)">subpattern</span><span style="left:624.90px;top:-4.2px;transform:scaleX(0.915)">_</span><span style="left:650.20px;transform:scaleX(0.988)">8, </span><span style="left:697.46px;transform:scaleX(0.982)">ns=10</span></div>
</body></html>
